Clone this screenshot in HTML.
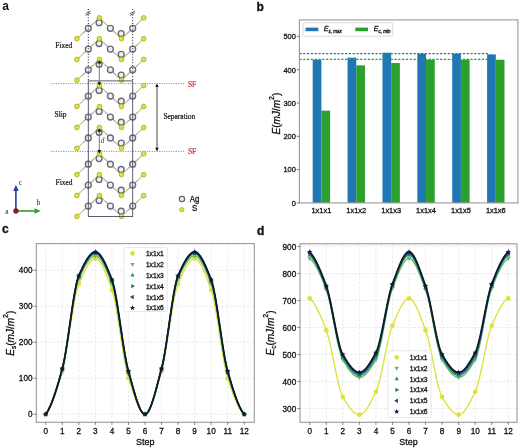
<!DOCTYPE html>
<html><head><meta charset="utf-8"><style>
html,body{margin:0;padding:0;background:#fff;}
svg{display:block;filter:blur(0.35px);}
text{stroke:#111;stroke-width:0.3px;}
.pa text{stroke:none;}
.pa text.sv{stroke:#1a1a1a;stroke-width:0.25px;}
.pa text.sr{stroke:#d02828;stroke-width:0.2px;}
.pa text.sb{stroke:#111;stroke-width:0.3px;}
</style></head><body>
<svg width="520" height="448" viewBox="0 0 520 448">
<rect width="520" height="448" fill="#fff"/>
<g class="pa">
<text transform="translate(2.20,9.50)" style="font-family:'Liberation Sans', sans-serif;font-size:12px;font-weight:bold" fill="#111">a</text>
<line x1="51" y1="83.6" x2="185.5" y2="83.6" stroke="#777" stroke-width="0.8" stroke-dasharray="1.2,1.2"/>
<line x1="51" y1="151.4" x2="185.5" y2="151.4" stroke="#777" stroke-width="0.8" stroke-dasharray="1.2,1.2"/>
<path d="M76.90,38.70 L82.60,33.50 M93.85,23.10 L99.40,17.90 M99.40,17.90 L104.90,23.10 M115.95,33.50 L121.50,38.70 M121.50,38.70 L127.10,33.50 M138.20,23.10 L143.70,17.90 M76.90,59.50 L82.60,54.30 M93.85,43.90 L99.40,38.70 M99.40,38.70 L104.90,43.90 M115.95,54.30 L121.50,59.50 M121.50,59.50 L127.10,54.30 M138.20,43.90 L143.70,38.70 M76.90,80.20 L82.60,75.00 M93.85,64.60 L99.40,59.40 M99.40,59.40 L104.90,64.60 M115.95,75.00 L121.50,80.20 M121.50,80.20 L127.10,75.00 M138.20,64.60 L143.70,59.40 M76.90,106.40 L82.60,101.20 M93.85,90.80 L99.40,85.60 M99.40,85.60 L104.90,90.80 M115.95,101.20 L121.50,106.40 M121.50,106.40 L127.10,101.20 M138.20,90.80 L143.70,85.60 M76.90,127.40 L82.60,122.20 M93.85,111.80 L99.40,106.60 M99.40,106.60 L104.90,111.80 M115.95,122.20 L121.50,127.40 M121.50,127.40 L127.10,122.20 M138.20,111.80 L143.70,106.60 M76.90,148.30 L82.60,143.10 M93.85,132.70 L99.40,127.50 M99.40,127.50 L104.90,132.70 M115.95,143.10 L121.50,148.30 M121.50,148.30 L127.10,143.10 M138.20,132.70 L143.70,127.50 M76.90,174.60 L82.60,169.40 M93.85,159.00 L99.40,153.80 M99.40,153.80 L104.90,159.00 M115.95,169.40 L121.50,174.60 M121.50,174.60 L127.10,169.40 M138.20,159.00 L143.70,153.80 M76.90,195.40 L82.60,190.20 M93.85,179.80 L99.40,174.60 M99.40,174.60 L104.90,179.80 M115.95,190.20 L121.50,195.40 M121.50,195.40 L127.10,190.20 M138.20,179.80 L143.70,174.60 M76.90,216.40 L82.60,211.20 M93.85,200.80 L99.40,195.60 M99.40,195.60 L104.90,200.80 M115.95,211.20 L121.50,216.40 M121.50,216.40 L127.10,211.20 M138.20,200.80 L143.70,195.60" stroke="#c6c66a" stroke-width="1.15" fill="none"/>
<path d="M82.60,33.50 L88.30,28.30 M88.30,28.30 L93.85,23.10 M104.90,23.10 L110.40,28.30 M110.40,28.30 L115.95,33.50 M127.10,33.50 L132.70,28.30 M132.70,28.30 L138.20,23.10 M82.60,54.30 L88.30,49.10 M88.30,49.10 L93.85,43.90 M104.90,43.90 L110.40,49.10 M110.40,49.10 L115.95,54.30 M127.10,54.30 L132.70,49.10 M132.70,49.10 L138.20,43.90 M82.60,75.00 L88.30,69.80 M88.30,69.80 L93.85,64.60 M104.90,64.60 L110.40,69.80 M110.40,69.80 L115.95,75.00 M127.10,75.00 L132.70,69.80 M132.70,69.80 L138.20,64.60 M82.60,101.20 L88.30,96.00 M88.30,96.00 L93.85,90.80 M104.90,90.80 L110.40,96.00 M110.40,96.00 L115.95,101.20 M127.10,101.20 L132.70,96.00 M132.70,96.00 L138.20,90.80 M82.60,122.20 L88.30,117.00 M88.30,117.00 L93.85,111.80 M104.90,111.80 L110.40,117.00 M110.40,117.00 L115.95,122.20 M127.10,122.20 L132.70,117.00 M132.70,117.00 L138.20,111.80 M82.60,143.10 L88.30,137.90 M88.30,137.90 L93.85,132.70 M104.90,132.70 L110.40,137.90 M110.40,137.90 L115.95,143.10 M127.10,143.10 L132.70,137.90 M132.70,137.90 L138.20,132.70 M82.60,169.40 L88.30,164.20 M88.30,164.20 L93.85,159.00 M104.90,159.00 L110.40,164.20 M110.40,164.20 L115.95,169.40 M127.10,169.40 L132.70,164.20 M132.70,164.20 L138.20,159.00 M82.60,190.20 L88.30,185.00 M88.30,185.00 L93.85,179.80 M104.90,179.80 L110.40,185.00 M110.40,185.00 L115.95,190.20 M127.10,190.20 L132.70,185.00 M132.70,185.00 L138.20,179.80 M82.60,211.20 L88.30,206.00 M88.30,206.00 L93.85,200.80 M104.90,200.80 L110.40,206.00 M110.40,206.00 L115.95,211.20 M127.10,211.20 L132.70,206.00 M132.70,206.00 L138.20,200.80" stroke="#a6a6a8" stroke-width="1.15" fill="none"/>
<circle cx="88.3" cy="28.3" r="2.95" fill="#f0f0f4" stroke="#68687a" stroke-width="1.35"/>
<circle cx="99.1" cy="22.7" r="2.95" fill="#f0f0f4" stroke="#68687a" stroke-width="1.35"/>
<circle cx="110.4" cy="28.3" r="2.95" fill="#f0f0f4" stroke="#68687a" stroke-width="1.35"/>
<circle cx="121.2" cy="33.5" r="2.95" fill="#f0f0f4" stroke="#68687a" stroke-width="1.35"/>
<circle cx="132.7" cy="28.3" r="2.95" fill="#f0f0f4" stroke="#68687a" stroke-width="1.35"/>
<circle cx="88.3" cy="49.1" r="2.95" fill="#f0f0f4" stroke="#68687a" stroke-width="1.35"/>
<circle cx="99.1" cy="43.5" r="2.95" fill="#f0f0f4" stroke="#68687a" stroke-width="1.35"/>
<circle cx="110.4" cy="49.1" r="2.95" fill="#f0f0f4" stroke="#68687a" stroke-width="1.35"/>
<circle cx="121.2" cy="54.3" r="2.95" fill="#f0f0f4" stroke="#68687a" stroke-width="1.35"/>
<circle cx="132.7" cy="49.1" r="2.95" fill="#f0f0f4" stroke="#68687a" stroke-width="1.35"/>
<circle cx="88.3" cy="69.8" r="2.95" fill="#f0f0f4" stroke="#68687a" stroke-width="1.35"/>
<circle cx="99.1" cy="64.2" r="2.95" fill="#f0f0f4" stroke="#68687a" stroke-width="1.35"/>
<circle cx="110.4" cy="69.8" r="2.95" fill="#f0f0f4" stroke="#68687a" stroke-width="1.35"/>
<circle cx="121.2" cy="75.0" r="2.95" fill="#f0f0f4" stroke="#68687a" stroke-width="1.35"/>
<circle cx="132.7" cy="69.8" r="2.95" fill="#f0f0f4" stroke="#68687a" stroke-width="1.35"/>
<circle cx="88.3" cy="96.0" r="2.95" fill="#f0f0f4" stroke="#68687a" stroke-width="1.35"/>
<circle cx="99.1" cy="90.4" r="2.95" fill="#f0f0f4" stroke="#68687a" stroke-width="1.35"/>
<circle cx="110.4" cy="96.0" r="2.95" fill="#f0f0f4" stroke="#68687a" stroke-width="1.35"/>
<circle cx="121.2" cy="101.2" r="2.95" fill="#f0f0f4" stroke="#68687a" stroke-width="1.35"/>
<circle cx="132.7" cy="96.0" r="2.95" fill="#f0f0f4" stroke="#68687a" stroke-width="1.35"/>
<circle cx="88.3" cy="117.0" r="2.95" fill="#f0f0f4" stroke="#68687a" stroke-width="1.35"/>
<circle cx="99.1" cy="111.4" r="2.95" fill="#f0f0f4" stroke="#68687a" stroke-width="1.35"/>
<circle cx="110.4" cy="117.0" r="2.95" fill="#f0f0f4" stroke="#68687a" stroke-width="1.35"/>
<circle cx="121.2" cy="122.2" r="2.95" fill="#f0f0f4" stroke="#68687a" stroke-width="1.35"/>
<circle cx="132.7" cy="117.0" r="2.95" fill="#f0f0f4" stroke="#68687a" stroke-width="1.35"/>
<circle cx="88.3" cy="137.9" r="2.95" fill="#f0f0f4" stroke="#68687a" stroke-width="1.35"/>
<circle cx="99.1" cy="132.3" r="2.95" fill="#f0f0f4" stroke="#68687a" stroke-width="1.35"/>
<circle cx="110.4" cy="137.9" r="2.95" fill="#f0f0f4" stroke="#68687a" stroke-width="1.35"/>
<circle cx="121.2" cy="143.1" r="2.95" fill="#f0f0f4" stroke="#68687a" stroke-width="1.35"/>
<circle cx="132.7" cy="137.9" r="2.95" fill="#f0f0f4" stroke="#68687a" stroke-width="1.35"/>
<circle cx="88.3" cy="164.2" r="2.95" fill="#f0f0f4" stroke="#68687a" stroke-width="1.35"/>
<circle cx="99.1" cy="158.6" r="2.95" fill="#f0f0f4" stroke="#68687a" stroke-width="1.35"/>
<circle cx="110.4" cy="164.2" r="2.95" fill="#f0f0f4" stroke="#68687a" stroke-width="1.35"/>
<circle cx="121.2" cy="169.4" r="2.95" fill="#f0f0f4" stroke="#68687a" stroke-width="1.35"/>
<circle cx="132.7" cy="164.2" r="2.95" fill="#f0f0f4" stroke="#68687a" stroke-width="1.35"/>
<circle cx="88.3" cy="185.0" r="2.95" fill="#f0f0f4" stroke="#68687a" stroke-width="1.35"/>
<circle cx="99.1" cy="179.4" r="2.95" fill="#f0f0f4" stroke="#68687a" stroke-width="1.35"/>
<circle cx="110.4" cy="185.0" r="2.95" fill="#f0f0f4" stroke="#68687a" stroke-width="1.35"/>
<circle cx="121.2" cy="190.2" r="2.95" fill="#f0f0f4" stroke="#68687a" stroke-width="1.35"/>
<circle cx="132.7" cy="185.0" r="2.95" fill="#f0f0f4" stroke="#68687a" stroke-width="1.35"/>
<circle cx="88.3" cy="206.0" r="2.95" fill="#f0f0f4" stroke="#68687a" stroke-width="1.35"/>
<circle cx="99.1" cy="200.4" r="2.95" fill="#f0f0f4" stroke="#68687a" stroke-width="1.35"/>
<circle cx="110.4" cy="206.0" r="2.95" fill="#f0f0f4" stroke="#68687a" stroke-width="1.35"/>
<circle cx="121.2" cy="211.2" r="2.95" fill="#f0f0f4" stroke="#68687a" stroke-width="1.35"/>
<circle cx="132.7" cy="206.0" r="2.95" fill="#f0f0f4" stroke="#68687a" stroke-width="1.35"/>
<circle cx="76.9" cy="38.7" r="2.35" fill="#e2e236" stroke="#a6a630" stroke-width="0.8"/>
<circle cx="121.5" cy="38.7" r="2.35" fill="#e2e236" stroke="#a6a630" stroke-width="0.8"/>
<circle cx="99.4" cy="17.9" r="2.35" fill="#e2e236" stroke="#a6a630" stroke-width="0.8"/>
<circle cx="143.7" cy="17.9" r="2.35" fill="#e2e236" stroke="#a6a630" stroke-width="0.8"/>
<circle cx="76.9" cy="59.5" r="2.35" fill="#e2e236" stroke="#a6a630" stroke-width="0.8"/>
<circle cx="121.5" cy="59.5" r="2.35" fill="#e2e236" stroke="#a6a630" stroke-width="0.8"/>
<circle cx="99.4" cy="38.7" r="2.35" fill="#e2e236" stroke="#a6a630" stroke-width="0.8"/>
<circle cx="143.7" cy="38.7" r="2.35" fill="#e2e236" stroke="#a6a630" stroke-width="0.8"/>
<circle cx="76.9" cy="80.2" r="2.35" fill="#e2e236" stroke="#a6a630" stroke-width="0.8"/>
<circle cx="121.5" cy="80.2" r="2.35" fill="#e2e236" stroke="#a6a630" stroke-width="0.8"/>
<circle cx="99.4" cy="59.4" r="2.35" fill="#e2e236" stroke="#a6a630" stroke-width="0.8"/>
<circle cx="143.7" cy="59.4" r="2.35" fill="#e2e236" stroke="#a6a630" stroke-width="0.8"/>
<circle cx="76.9" cy="106.4" r="2.35" fill="#e2e236" stroke="#a6a630" stroke-width="0.8"/>
<circle cx="121.5" cy="106.4" r="2.35" fill="#e2e236" stroke="#a6a630" stroke-width="0.8"/>
<circle cx="99.4" cy="85.6" r="2.35" fill="#e2e236" stroke="#a6a630" stroke-width="0.8"/>
<circle cx="143.7" cy="85.6" r="2.35" fill="#e2e236" stroke="#a6a630" stroke-width="0.8"/>
<circle cx="76.9" cy="127.4" r="2.35" fill="#e2e236" stroke="#a6a630" stroke-width="0.8"/>
<circle cx="121.5" cy="127.4" r="2.35" fill="#e2e236" stroke="#a6a630" stroke-width="0.8"/>
<circle cx="99.4" cy="106.6" r="2.35" fill="#e2e236" stroke="#a6a630" stroke-width="0.8"/>
<circle cx="143.7" cy="106.6" r="2.35" fill="#e2e236" stroke="#a6a630" stroke-width="0.8"/>
<circle cx="76.9" cy="148.3" r="2.35" fill="#e2e236" stroke="#a6a630" stroke-width="0.8"/>
<circle cx="121.5" cy="148.3" r="2.35" fill="#e2e236" stroke="#a6a630" stroke-width="0.8"/>
<circle cx="99.4" cy="127.5" r="2.35" fill="#e2e236" stroke="#a6a630" stroke-width="0.8"/>
<circle cx="143.7" cy="127.5" r="2.35" fill="#e2e236" stroke="#a6a630" stroke-width="0.8"/>
<circle cx="76.9" cy="174.6" r="2.35" fill="#e2e236" stroke="#a6a630" stroke-width="0.8"/>
<circle cx="121.5" cy="174.6" r="2.35" fill="#e2e236" stroke="#a6a630" stroke-width="0.8"/>
<circle cx="99.4" cy="153.8" r="2.35" fill="#e2e236" stroke="#a6a630" stroke-width="0.8"/>
<circle cx="143.7" cy="153.8" r="2.35" fill="#e2e236" stroke="#a6a630" stroke-width="0.8"/>
<circle cx="76.9" cy="195.4" r="2.35" fill="#e2e236" stroke="#a6a630" stroke-width="0.8"/>
<circle cx="121.5" cy="195.4" r="2.35" fill="#e2e236" stroke="#a6a630" stroke-width="0.8"/>
<circle cx="99.4" cy="174.6" r="2.35" fill="#e2e236" stroke="#a6a630" stroke-width="0.8"/>
<circle cx="143.7" cy="174.6" r="2.35" fill="#e2e236" stroke="#a6a630" stroke-width="0.8"/>
<circle cx="76.9" cy="216.4" r="2.35" fill="#e2e236" stroke="#a6a630" stroke-width="0.8"/>
<circle cx="121.5" cy="216.4" r="2.35" fill="#e2e236" stroke="#a6a630" stroke-width="0.8"/>
<circle cx="99.4" cy="195.6" r="2.35" fill="#e2e236" stroke="#a6a630" stroke-width="0.8"/>
<circle cx="143.7" cy="195.6" r="2.35" fill="#e2e236" stroke="#a6a630" stroke-width="0.8"/>
<rect x="88.3" y="80.9" width="44.4" height="135.6" fill="none" stroke="#4c4c5c" stroke-width="0.9"/>
<line x1="88.3" y1="9" x2="88.3" y2="80.9" stroke="#222" stroke-width="1" stroke-dasharray="1,1.8"/>
<path d="M85.7,13.6 L90.5,11.2 M85.7,15.4 L90.5,13.0" stroke="#333" stroke-width="0.8" fill="none"/>
<line x1="132.7" y1="9" x2="132.7" y2="80.9" stroke="#222" stroke-width="1" stroke-dasharray="1,1.8"/>
<path d="M130.1,13.6 L134.89999999999998,11.2 M130.1,15.4 L134.89999999999998,13.0" stroke="#333" stroke-width="0.8" fill="none"/>
<line x1="99.3" y1="62.2" x2="99.3" y2="83.6" stroke="#6a6a7c" stroke-width="0.9"/>
<path d="M97.3,63.6 L99.3,60.2 L101.3,63.6 Z M97.3,82.19999999999999 L99.3,85.6 L101.3,82.19999999999999 Z" fill="#111"/>
<line x1="99.3" y1="130.4" x2="99.3" y2="151.4" stroke="#6a6a7c" stroke-width="0.9"/>
<path d="M97.3,131.8 L99.3,128.4 L101.3,131.8 Z M97.3,150.0 L99.3,153.4 L101.3,150.0 Z" fill="#111"/>
<text transform="translate(100.90,143.40) scale(0.93,1)" style="font-family:'Liberation Serif', serif;font-size:7.2px;font-style:italic" fill="#333">d</text>
<line x1="157" y1="85" x2="157" y2="150" stroke="#333" stroke-width="0.9"/>
<path d="M155.3,87 L157,83.4 L158.7,87 Z M155.3,147.8 L157,151.4 L158.7,147.8 Z" fill="#111"/>
<text class="sv" transform="translate(55.30,48.40) scale(0.93,1)" style="font-family:'Liberation Serif', serif;font-size:8px;" fill="#1a1a1a">Fixed</text>
<text class="sv" transform="translate(54.60,117.30) scale(0.93,1)" style="font-family:'Liberation Serif', serif;font-size:8px;" fill="#1a1a1a">Slip</text>
<text class="sv" transform="translate(55.50,185.10) scale(0.93,1)" style="font-family:'Liberation Serif', serif;font-size:8px;" fill="#1a1a1a">Fixed</text>
<text class="sv" transform="translate(163.40,119.00) scale(0.93,1)" style="font-family:'Liberation Serif', serif;font-size:8px;" fill="#1a1a1a">Separation</text>
<text class="sr" transform="translate(187.90,86.50) scale(0.93,1)" style="font-family:'Liberation Serif', serif;font-size:8px;" fill="#d02828">SF</text>
<text class="sr" transform="translate(187.90,154.20) scale(0.93,1)" style="font-family:'Liberation Serif', serif;font-size:8px;" fill="#d02828">SF</text>
<line x1="15.9" y1="211" x2="15.9" y2="190" stroke="#1f3f9a" stroke-width="1.6"/>
<path d="M13.2,191 L15.9,184.8 L18.6,191 Z" fill="#1f3f9a"/>
<line x1="15.9" y1="211" x2="35" y2="211" stroke="#2ca02c" stroke-width="1.6"/>
<path d="M34.5,208.3 L40.8,211 L34.5,213.7 Z" fill="#2ca02c"/>
<circle cx="15.9" cy="211" r="2.4" fill="#a01818" stroke="#600" stroke-width="0.6"/>
<text transform="translate(18.80,184.60) scale(0.93,1)" style="font-family:'Liberation Serif', serif;font-size:8px;" fill="#222">c</text>
<text transform="translate(36.40,204.60) scale(0.93,1)" style="font-family:'Liberation Serif', serif;font-size:8px;" fill="#222">b</text>
<text transform="translate(5.20,213.80) scale(0.93,1)" style="font-family:'Liberation Serif', serif;font-size:8px;" fill="#222">a</text>
<circle cx="182" cy="199" r="2.6" fill="#f4f4f4" stroke="#666" stroke-width="1.25"/>
<circle cx="181.8" cy="209.7" r="2.2" fill="#e0e030" stroke="#b0b040" stroke-width="0.8"/>
<text class="sb" transform="translate(189.80,201.80) scale(0.93,1)" style="font-family:'Liberation Sans', sans-serif;font-size:8.4px;" fill="#111">Ag</text>
<text class="sb" transform="translate(192.00,211.40) scale(0.93,1)" style="font-family:'Liberation Sans', sans-serif;font-size:8.4px;" fill="#111">S</text>
</g>
<text transform="translate(256.60,10.60)" style="font-family:'Liberation Sans', sans-serif;font-size:12px;font-weight:bold" fill="#111">b</text>
<rect x="312.70" y="59.71" width="8.7" height="143.19" fill="#1f77b4"/>
<rect x="321.40" y="110.66" width="8.7" height="92.24" fill="#2ca02c"/>
<rect x="347.58" y="57.71" width="8.7" height="145.19" fill="#1f77b4"/>
<rect x="356.28" y="65.37" width="8.7" height="137.53" fill="#2ca02c"/>
<rect x="382.46" y="52.72" width="8.7" height="150.18" fill="#1f77b4"/>
<rect x="391.16" y="63.04" width="8.7" height="139.86" fill="#2ca02c"/>
<rect x="417.34" y="53.72" width="8.7" height="149.18" fill="#1f77b4"/>
<rect x="426.04" y="59.71" width="8.7" height="143.19" fill="#2ca02c"/>
<rect x="452.22" y="53.72" width="8.7" height="149.18" fill="#1f77b4"/>
<rect x="460.92" y="59.71" width="8.7" height="143.19" fill="#2ca02c"/>
<rect x="487.10" y="54.38" width="8.7" height="148.52" fill="#1f77b4"/>
<rect x="495.80" y="59.71" width="8.7" height="143.19" fill="#2ca02c"/>
<line x1="299.4" y1="53.72" x2="488" y2="53.72" stroke="#1f77b4" stroke-width="1.25" stroke-dasharray="2.3,1.5"/>
<line x1="299.4" y1="59.38" x2="488" y2="59.38" stroke="#2ca02c" stroke-width="1.25" stroke-dasharray="2.3,1.5"/>
<rect x="299.4" y="19.9" width="218.50" height="183.00" fill="none" stroke="#999" stroke-width="1.1"/>
<line x1="296.79999999999995" y1="202.90" x2="299.4" y2="202.90" stroke="#555" stroke-width="0.8"/>
<text transform="translate(295.80,205.70) scale(0.93,1)" text-anchor="end" style="font-family:'Liberation Sans', sans-serif;font-size:8.0px;" fill="#111">0</text>
<line x1="296.79999999999995" y1="169.60" x2="299.4" y2="169.60" stroke="#555" stroke-width="0.8"/>
<text transform="translate(295.80,172.40) scale(0.93,1)" text-anchor="end" style="font-family:'Liberation Sans', sans-serif;font-size:8.0px;" fill="#111">100</text>
<line x1="296.79999999999995" y1="136.30" x2="299.4" y2="136.30" stroke="#555" stroke-width="0.8"/>
<text transform="translate(295.80,139.10) scale(0.93,1)" text-anchor="end" style="font-family:'Liberation Sans', sans-serif;font-size:8.0px;" fill="#111">200</text>
<line x1="296.79999999999995" y1="103.00" x2="299.4" y2="103.00" stroke="#555" stroke-width="0.8"/>
<text transform="translate(295.80,105.80) scale(0.93,1)" text-anchor="end" style="font-family:'Liberation Sans', sans-serif;font-size:8.0px;" fill="#111">300</text>
<line x1="296.79999999999995" y1="69.70" x2="299.4" y2="69.70" stroke="#555" stroke-width="0.8"/>
<text transform="translate(295.80,72.50) scale(0.93,1)" text-anchor="end" style="font-family:'Liberation Sans', sans-serif;font-size:8.0px;" fill="#111">400</text>
<line x1="296.79999999999995" y1="36.40" x2="299.4" y2="36.40" stroke="#555" stroke-width="0.8"/>
<text transform="translate(295.80,39.20) scale(0.93,1)" text-anchor="end" style="font-family:'Liberation Sans', sans-serif;font-size:8.0px;" fill="#111">500</text>
<text transform="translate(321.40,213.30) scale(0.93,1)" text-anchor="middle" style="font-family:'Liberation Sans', sans-serif;font-size:8.0px;" fill="#111">1x1x1</text>
<text transform="translate(356.28,213.30) scale(0.93,1)" text-anchor="middle" style="font-family:'Liberation Sans', sans-serif;font-size:8.0px;" fill="#111">1x1x2</text>
<text transform="translate(391.16,213.30) scale(0.93,1)" text-anchor="middle" style="font-family:'Liberation Sans', sans-serif;font-size:8.0px;" fill="#111">1x1x3</text>
<text transform="translate(426.04,213.30) scale(0.93,1)" text-anchor="middle" style="font-family:'Liberation Sans', sans-serif;font-size:8.0px;" fill="#111">1x1x4</text>
<text transform="translate(460.92,213.30) scale(0.93,1)" text-anchor="middle" style="font-family:'Liberation Sans', sans-serif;font-size:8.0px;" fill="#111">1x1x5</text>
<text transform="translate(495.80,213.30) scale(0.93,1)" text-anchor="middle" style="font-family:'Liberation Sans', sans-serif;font-size:8.0px;" fill="#111">1x1x6</text>
<text transform="translate(279.60,113.60) rotate(-90) scale(0.93,1)" text-anchor="middle" style="font-family:'Liberation Sans', sans-serif;font-size:10.8px;" fill="#111"><tspan font-style="italic">E</tspan>(<tspan font-style="italic">mJ</tspan>/<tspan font-style="italic">m</tspan><tspan dy="-5.2" font-size="7.5px">2</tspan><tspan dy="5.2">)</tspan></text>
<rect x="303" y="22.7" width="89.7" height="13.5" rx="1.5" fill="#fff" fill-opacity="0.8" stroke="#d0d0d0" stroke-width="0.8"/>
<rect x="305.6" y="27.6" width="12.7" height="3.6" fill="#1f77b4"/>
<rect x="355.3" y="27.6" width="12.7" height="3.6" fill="#2ca02c"/>
<text transform="translate(323.80,31.10) scale(0.93,1)" style="font-family:'Liberation Sans', sans-serif;font-size:7.6px;font-style:italic" fill="#111">E<tspan dy="2.0" font-size="4.9px">s, max</tspan></text>
<text transform="translate(373.70,31.10) scale(0.93,1)" style="font-family:'Liberation Sans', sans-serif;font-size:7.6px;font-style:italic" fill="#111">E<tspan dy="2.0" font-size="4.9px">c, min</tspan></text>
<text transform="translate(2.00,232.80)" style="font-family:'Liberation Sans', sans-serif;font-size:12px;font-weight:bold" fill="#111">c</text>
<path d="M45.75,243.6 L45.75,422.3 M62.29,243.6 L62.29,422.3 M78.83,243.6 L78.83,422.3 M95.37,243.6 L95.37,422.3 M111.91,243.6 L111.91,422.3 M128.45,243.6 L128.45,422.3 M144.99,243.6 L144.99,422.3 M161.53,243.6 L161.53,422.3 M178.07,243.6 L178.07,422.3 M194.61,243.6 L194.61,422.3 M211.15,243.6 L211.15,422.3 M227.69,243.6 L227.69,422.3 M244.23,243.6 L244.23,422.3 M36.3,414.25 L254.3,414.25 M36.3,378.25 L254.3,378.25 M36.3,342.25 L254.3,342.25 M36.3,306.25 L254.3,306.25 M36.3,270.25 L254.3,270.25" stroke="#e6e6e6" stroke-width="0.8" stroke-dasharray="2.6,1.6" fill="none"/>
<path d="M45.75,414.25 L46.25,413.63 L46.74,412.95 L47.24,412.22 L47.74,411.44 L48.24,410.61 L48.73,409.73 L49.23,408.80 L49.73,407.83 L50.23,406.81 L50.72,405.74 L51.22,404.64 L51.72,403.49 L52.22,402.31 L52.71,401.08 L53.21,399.82 L53.71,398.52 L54.21,397.19 L54.70,395.82 L55.20,394.43 L55.70,393.00 L56.20,391.54 L56.69,390.05 L57.19,388.54 L57.69,387.00 L58.19,385.43 L58.68,383.85 L59.18,382.24 L59.68,380.61 L60.18,378.96 L60.67,377.29 L61.17,375.61 L61.67,373.91 L62.17,372.20 L62.66,370.42 L63.16,368.46 L63.66,366.33 L64.16,364.03 L64.65,361.58 L65.15,358.99 L65.65,356.28 L66.15,353.46 L66.64,350.54 L67.14,347.53 L67.64,344.45 L68.13,341.32 L68.63,338.13 L69.13,334.91 L69.63,331.67 L70.12,328.43 L70.62,325.18 L71.12,321.96 L71.62,318.76 L72.11,315.62 L72.61,312.52 L73.11,309.50 L73.61,306.56 L74.10,303.71 L74.60,300.98 L75.10,298.36 L75.60,295.88 L76.09,293.55 L76.59,291.38 L77.09,289.38 L77.59,287.56 L78.08,285.95 L78.58,284.55 L79.08,283.34 L79.58,282.17 L80.07,281.01 L80.57,279.85 L81.07,278.71 L81.57,277.58 L82.06,276.46 L82.56,275.36 L83.06,274.28 L83.56,273.22 L84.05,272.19 L84.55,271.18 L85.05,270.19 L85.55,269.23 L86.04,268.30 L86.54,267.40 L87.04,266.54 L87.54,265.71 L88.03,264.92 L88.53,264.17 L89.03,263.45 L89.53,262.78 L90.02,262.16 L90.52,261.58 L91.02,261.05 L91.51,260.57 L92.01,260.14 L92.51,259.76 L93.01,259.44 L93.50,259.18 L94.00,258.97 L94.50,258.83 L95.00,258.75 L95.49,258.73 L95.99,258.80 L96.49,258.94 L96.99,259.17 L97.48,259.48 L97.98,259.86 L98.48,260.31 L98.98,260.83 L99.47,261.42 L99.97,262.07 L100.47,262.79 L100.97,263.56 L101.46,264.39 L101.96,265.27 L102.46,266.21 L102.96,267.19 L103.45,268.22 L103.95,269.29 L104.45,270.40 L104.95,271.54 L105.44,272.73 L105.94,273.94 L106.44,275.19 L106.94,276.46 L107.43,277.75 L107.93,279.07 L108.43,280.40 L108.93,281.76 L109.42,283.12 L109.92,284.50 L110.42,285.88 L110.92,287.27 L111.41,288.66 L111.91,290.05 L112.41,291.55 L112.90,293.25 L113.40,295.15 L113.90,297.22 L114.40,299.47 L114.89,301.87 L115.39,304.41 L115.89,307.08 L116.39,309.86 L116.88,312.75 L117.38,315.73 L117.88,318.78 L118.38,321.90 L118.87,325.07 L119.37,328.28 L119.87,331.51 L120.37,334.75 L120.86,338.00 L121.36,341.23 L121.86,344.44 L122.36,347.60 L122.85,350.72 L123.35,353.77 L123.85,356.74 L124.35,359.62 L124.84,362.40 L125.34,365.06 L125.84,367.59 L126.34,369.98 L126.83,372.22 L127.33,374.28 L127.83,376.17 L128.33,377.86 L128.82,379.41 L129.32,380.95 L129.82,382.51 L130.32,384.06 L130.81,385.61 L131.31,387.16 L131.81,388.69 L132.31,390.22 L132.80,391.72 L133.30,393.21 L133.80,394.68 L134.29,396.11 L134.79,397.52 L135.29,398.90 L135.79,400.24 L136.28,401.54 L136.78,402.80 L137.28,404.01 L137.78,405.17 L138.27,406.27 L138.77,407.32 L139.27,408.31 L139.77,409.24 L140.26,410.09 L140.76,410.88 L141.26,411.60 L141.76,412.23 L142.25,412.79 L142.75,413.26 L143.25,413.64 L143.75,413.94 L144.24,414.14 L144.74,414.24 L145.24,414.23 L145.74,414.11 L146.23,413.87 L146.73,413.50 L147.23,413.03 L147.73,412.46 L148.22,411.78 L148.72,411.00 L149.22,410.13 L149.72,409.17 L150.21,408.12 L150.71,407.00 L151.21,405.80 L151.71,404.54 L152.20,403.20 L152.70,401.81 L153.20,400.35 L153.70,398.85 L154.19,397.30 L154.69,395.70 L155.19,394.07 L155.69,392.40 L156.18,390.70 L156.68,388.97 L157.18,387.23 L157.67,385.47 L158.17,383.70 L158.67,381.92 L159.17,380.13 L159.66,378.35 L160.16,376.58 L160.66,374.82 L161.16,373.07 L161.65,371.33 L162.15,369.47 L162.65,367.42 L163.15,365.20 L163.64,362.82 L164.14,360.30 L164.64,357.65 L165.14,354.88 L165.63,352.01 L166.13,349.05 L166.63,346.00 L167.13,342.89 L167.62,339.73 L168.12,336.52 L168.62,333.29 L169.12,330.05 L169.61,326.80 L170.11,323.57 L170.61,320.36 L171.11,317.18 L171.60,314.06 L172.10,311.00 L172.60,308.02 L173.10,305.12 L173.59,302.33 L174.09,299.65 L174.59,297.11 L175.09,294.70 L175.58,292.44 L176.08,290.35 L176.58,288.45 L177.08,286.73 L177.57,285.22 L178.07,283.93 L178.57,282.75 L179.06,281.59 L179.56,280.43 L180.06,279.28 L180.56,278.14 L181.05,277.02 L181.55,275.91 L182.05,274.82 L182.55,273.75 L183.04,272.70 L183.54,271.68 L184.04,270.68 L184.54,269.71 L185.03,268.76 L185.53,267.85 L186.03,266.97 L186.53,266.12 L187.02,265.31 L187.52,264.54 L188.02,263.80 L188.52,263.11 L189.01,262.47 L189.51,261.86 L190.01,261.31 L190.51,260.80 L191.00,260.35 L191.50,259.94 L192.00,259.59 L192.50,259.30 L192.99,259.07 L193.49,258.89 L193.99,258.78 L194.49,258.73 L194.98,258.75 L195.48,258.86 L195.98,259.05 L196.48,259.31 L196.97,259.66 L197.47,260.07 L197.97,260.56 L198.47,261.12 L198.96,261.74 L199.46,262.42 L199.96,263.16 L200.45,263.97 L200.95,264.82 L201.45,265.73 L201.95,266.69 L202.44,267.70 L202.94,268.75 L203.44,269.84 L203.94,270.97 L204.43,272.13 L204.93,273.33 L205.43,274.56 L205.93,275.82 L206.42,277.10 L206.92,278.41 L207.42,279.73 L207.92,281.08 L208.41,282.44 L208.91,283.81 L209.41,285.19 L209.91,286.57 L210.40,287.96 L210.90,289.35 L211.40,290.77 L211.90,292.37 L212.39,294.18 L212.89,296.16 L213.39,298.33 L213.89,300.65 L214.38,303.12 L214.88,305.73 L215.38,308.46 L215.88,311.29 L216.37,314.23 L216.87,317.24 L217.37,320.33 L217.87,323.48 L218.36,326.67 L218.86,329.89 L219.36,333.13 L219.86,336.38 L220.35,339.62 L220.85,342.84 L221.35,346.03 L221.85,349.17 L222.34,352.25 L222.84,355.27 L223.34,358.19 L223.83,361.03 L224.33,363.75 L224.83,366.34 L225.33,368.81 L225.82,371.12 L226.32,373.27 L226.82,375.25 L227.32,377.04 L227.81,378.63 L228.31,380.17 L228.81,381.69 L229.31,383.20 L229.80,384.69 L230.30,386.18 L230.80,387.64 L231.30,389.09 L231.79,390.51 L232.29,391.92 L232.79,393.30 L233.29,394.65 L233.78,395.97 L234.28,397.27 L234.78,398.54 L235.28,399.77 L235.77,400.96 L236.27,402.12 L236.77,403.25 L237.27,404.33 L237.76,405.37 L238.26,406.36 L238.76,407.31 L239.26,408.22 L239.75,409.07 L240.25,409.87 L240.75,410.63 L241.25,411.32 L241.74,411.96 L242.24,412.54 L242.74,413.06 L243.24,413.52 L243.73,413.92 L244.23,414.25" stroke="#dce23a" stroke-width="1.35" fill="none" stroke-linejoin="round"/>
<circle cx="45.75" cy="414.25" r="2.35" fill="#dce23a"/>
<circle cx="62.29" cy="371.77" r="2.35" fill="#dce23a"/>
<circle cx="78.83" cy="283.93" r="2.35" fill="#dce23a"/>
<circle cx="95.37" cy="258.73" r="2.35" fill="#dce23a"/>
<circle cx="111.91" cy="290.05" r="2.35" fill="#dce23a"/>
<circle cx="128.45" cy="378.25" r="2.35" fill="#dce23a"/>
<circle cx="144.99" cy="414.25" r="2.35" fill="#dce23a"/>
<circle cx="161.53" cy="371.77" r="2.35" fill="#dce23a"/>
<circle cx="178.07" cy="283.93" r="2.35" fill="#dce23a"/>
<circle cx="194.61" cy="258.73" r="2.35" fill="#dce23a"/>
<circle cx="211.15" cy="290.05" r="2.35" fill="#dce23a"/>
<circle cx="227.69" cy="378.25" r="2.35" fill="#dce23a"/>
<circle cx="244.23" cy="414.25" r="2.35" fill="#dce23a"/>
<path d="M45.75,414.25 L46.25,413.57 L46.74,412.84 L47.24,412.06 L47.74,411.22 L48.24,410.33 L48.73,409.39 L49.23,408.41 L49.73,407.37 L50.23,406.30 L50.72,405.17 L51.22,404.01 L51.72,402.80 L52.22,401.55 L52.71,400.27 L53.21,398.94 L53.71,397.58 L54.21,396.18 L54.70,394.75 L55.20,393.29 L55.70,391.79 L56.20,390.26 L56.69,388.71 L57.19,387.13 L57.69,385.52 L58.19,383.88 L58.68,382.23 L59.18,380.55 L59.68,378.84 L60.18,377.12 L60.67,375.38 L61.17,373.62 L61.67,371.85 L62.17,370.06 L62.66,368.20 L63.16,366.15 L63.66,363.92 L64.16,361.51 L64.65,358.95 L65.15,356.24 L65.65,353.40 L66.15,350.45 L66.64,347.39 L67.14,344.25 L67.64,341.03 L68.13,337.76 L68.63,334.43 L69.13,331.07 L69.63,327.70 L70.12,324.32 L70.62,320.94 L71.12,317.59 L71.62,314.28 L72.11,311.02 L72.61,307.82 L73.11,304.70 L73.61,301.67 L74.10,298.74 L74.60,295.94 L75.10,293.27 L75.60,290.75 L76.09,288.38 L76.59,286.20 L77.09,284.20 L77.59,282.40 L78.08,280.82 L78.58,279.47 L79.08,278.34 L79.58,277.24 L80.07,276.16 L80.57,275.08 L81.07,274.02 L81.57,272.97 L82.06,271.94 L82.56,270.93 L83.06,269.94 L83.56,268.97 L84.05,268.02 L84.55,267.09 L85.05,266.19 L85.55,265.32 L86.04,264.47 L86.54,263.66 L87.04,262.87 L87.54,262.12 L88.03,261.41 L88.53,260.73 L89.03,260.08 L89.53,259.48 L90.02,258.92 L90.52,258.40 L91.02,257.92 L91.51,257.49 L92.01,257.11 L92.51,256.77 L93.01,256.48 L93.50,256.25 L94.00,256.07 L94.50,255.94 L95.00,255.87 L95.49,255.85 L95.99,255.91 L96.49,256.04 L96.99,256.23 L97.48,256.50 L97.98,256.83 L98.48,257.23 L98.98,257.68 L99.47,258.20 L99.97,258.77 L100.47,259.40 L100.97,260.08 L101.46,260.81 L101.96,261.58 L102.46,262.41 L102.96,263.28 L103.45,264.19 L103.95,265.14 L104.45,266.12 L104.95,267.15 L105.44,268.20 L105.94,269.29 L106.44,270.40 L106.94,271.54 L107.43,272.71 L107.93,273.90 L108.43,275.10 L108.93,276.33 L109.42,277.57 L109.92,278.82 L110.42,280.09 L110.92,281.36 L111.41,282.64 L111.91,283.93 L112.41,285.33 L112.90,286.95 L113.40,288.78 L113.90,290.80 L114.40,293.00 L114.89,295.37 L115.39,297.89 L115.89,300.54 L116.39,303.33 L116.88,306.23 L117.38,309.23 L117.88,312.31 L118.38,315.47 L118.87,318.69 L119.37,321.95 L119.87,325.25 L120.37,328.56 L120.86,331.89 L121.36,335.21 L121.86,338.50 L122.36,341.77 L122.85,344.99 L123.35,348.14 L123.85,351.23 L124.35,354.23 L124.84,357.13 L125.34,359.91 L125.84,362.57 L126.34,365.09 L126.83,367.46 L127.33,369.66 L127.83,371.68 L128.33,373.50 L128.82,375.19 L129.32,376.88 L129.82,378.59 L130.32,380.30 L130.81,382.01 L131.31,383.72 L131.81,385.42 L132.31,387.11 L132.80,388.79 L133.30,390.45 L133.80,392.09 L134.29,393.71 L134.79,395.29 L135.29,396.83 L135.79,398.34 L136.28,399.81 L136.78,401.23 L137.28,402.59 L137.78,403.91 L138.27,405.16 L138.77,406.35 L139.27,407.47 L139.77,408.53 L140.26,409.50 L140.76,410.40 L141.26,411.22 L141.76,411.94 L142.25,412.58 L142.75,413.12 L143.25,413.56 L143.75,413.89 L144.24,414.12 L144.74,414.24 L145.24,414.23 L145.74,414.10 L146.23,413.84 L146.73,413.46 L147.23,412.97 L147.73,412.36 L148.22,411.64 L148.72,410.82 L149.22,409.90 L149.72,408.89 L150.21,407.79 L150.71,406.61 L151.21,405.34 L151.71,404.01 L152.20,402.60 L152.70,401.13 L153.20,399.60 L153.70,398.02 L154.19,396.39 L154.69,394.71 L155.19,392.99 L155.69,391.24 L156.18,389.45 L156.68,387.64 L157.18,385.81 L157.67,383.96 L158.17,382.10 L158.67,380.23 L159.17,378.36 L159.66,376.50 L160.16,374.64 L160.66,372.79 L161.16,370.97 L161.65,369.15 L162.15,367.20 L162.65,365.06 L163.15,362.73 L163.64,360.25 L164.14,357.61 L164.64,354.84 L165.14,351.94 L165.63,348.93 L166.13,345.83 L166.63,342.65 L167.13,339.40 L167.62,336.10 L168.12,332.76 L168.62,329.39 L169.12,326.01 L169.61,322.63 L170.11,319.26 L170.61,315.93 L171.11,312.64 L171.60,309.41 L172.10,306.25 L172.60,303.17 L173.10,300.19 L173.59,297.33 L174.09,294.59 L174.59,291.99 L175.09,289.54 L175.58,287.27 L176.08,285.17 L176.58,283.27 L177.08,281.58 L177.57,280.12 L178.07,278.89 L178.57,277.79 L179.06,276.70 L179.56,275.62 L180.06,274.55 L180.56,273.49 L181.05,272.46 L181.55,271.43 L182.05,270.43 L182.55,269.45 L183.04,268.49 L183.54,267.55 L184.04,266.64 L184.54,265.75 L185.03,264.89 L185.53,264.06 L186.03,263.26 L186.53,262.49 L187.02,261.76 L187.52,261.06 L188.02,260.40 L188.52,259.78 L189.01,259.19 L189.51,258.65 L190.01,258.15 L190.51,257.70 L191.00,257.29 L191.50,256.93 L192.00,256.62 L192.50,256.36 L192.99,256.15 L193.49,256.00 L193.99,255.90 L194.49,255.85 L194.98,255.87 L195.48,255.96 L195.98,256.13 L196.48,256.36 L196.97,256.66 L197.47,257.02 L197.97,257.45 L198.47,257.93 L198.96,258.48 L199.46,259.08 L199.96,259.73 L200.45,260.44 L200.95,261.19 L201.45,261.99 L201.95,262.84 L202.44,263.73 L202.94,264.66 L203.44,265.63 L203.94,266.63 L204.43,267.67 L204.93,268.74 L205.43,269.84 L205.93,270.97 L206.42,272.12 L206.92,273.30 L207.42,274.50 L207.92,275.71 L208.41,276.95 L208.91,278.20 L209.41,279.45 L209.91,280.73 L210.40,282.00 L210.90,283.29 L211.40,284.60 L211.90,286.12 L212.39,287.84 L212.89,289.77 L213.39,291.88 L213.89,294.16 L214.38,296.61 L214.88,299.20 L215.38,301.92 L215.88,304.77 L216.37,307.71 L216.87,310.76 L217.37,313.88 L217.87,317.07 L218.36,320.31 L218.86,323.60 L219.36,326.90 L219.86,330.23 L220.35,333.55 L220.85,336.86 L221.35,340.14 L221.85,343.38 L222.34,346.57 L222.84,349.70 L223.34,352.74 L223.83,355.69 L224.33,358.53 L224.83,361.26 L225.33,363.85 L225.82,366.29 L226.32,368.58 L226.82,370.69 L227.32,372.62 L227.81,374.35 L228.31,376.01 L228.81,377.67 L229.31,379.31 L229.80,380.93 L230.30,382.54 L230.80,384.13 L231.30,385.69 L231.79,387.24 L232.29,388.76 L232.79,390.26 L233.29,391.73 L233.78,393.17 L234.28,394.59 L234.78,395.97 L235.28,397.32 L235.77,398.63 L236.27,399.91 L236.77,401.15 L237.27,402.36 L237.76,403.52 L238.26,404.64 L238.76,405.72 L239.26,406.75 L239.75,407.73 L240.25,408.67 L240.75,409.56 L241.25,410.40 L241.74,411.18 L242.24,411.91 L242.74,412.58 L243.24,413.20 L243.73,413.75 L244.23,414.25" stroke="#68b85a" stroke-width="1.35" fill="none" stroke-linejoin="round"/>
<polygon points="45.75,416.83 43.51,412.96 47.99,412.96" fill="#68b85a"/>
<polygon points="62.29,372.19 60.05,368.32 64.53,368.32" fill="#68b85a"/>
<polygon points="78.83,281.47 76.59,277.60 81.07,277.60" fill="#68b85a"/>
<polygon points="95.37,258.44 93.13,254.56 97.61,254.56" fill="#68b85a"/>
<polygon points="111.91,286.51 109.67,282.64 114.15,282.64" fill="#68b85a"/>
<polygon points="128.45,376.51 126.21,372.64 130.69,372.64" fill="#68b85a"/>
<polygon points="144.99,416.83 142.75,412.96 147.23,412.96" fill="#68b85a"/>
<polygon points="161.53,372.19 159.29,368.32 163.77,368.32" fill="#68b85a"/>
<polygon points="178.07,281.47 175.83,277.60 180.31,277.60" fill="#68b85a"/>
<polygon points="194.61,258.44 192.37,254.56 196.85,254.56" fill="#68b85a"/>
<polygon points="211.15,286.51 208.91,282.64 213.39,282.64" fill="#68b85a"/>
<polygon points="227.69,376.51 225.45,372.64 229.93,372.64" fill="#68b85a"/>
<polygon points="244.23,416.83 241.99,412.96 246.47,412.96" fill="#68b85a"/>
<path d="M45.75,414.25 L46.25,413.58 L46.74,412.85 L47.24,412.07 L47.74,411.23 L48.24,410.34 L48.73,409.40 L49.23,408.41 L49.73,407.37 L50.23,406.29 L50.72,405.16 L51.22,403.99 L51.72,402.77 L52.22,401.52 L52.71,400.22 L53.21,398.88 L53.71,397.51 L54.21,396.10 L54.70,394.65 L55.20,393.18 L55.70,391.67 L56.20,390.12 L56.69,388.55 L57.19,386.95 L57.69,385.33 L58.19,383.68 L58.68,382.00 L59.18,380.30 L59.68,378.58 L60.18,376.84 L60.67,375.08 L61.17,373.31 L61.67,371.51 L62.17,369.70 L62.66,367.83 L63.16,365.75 L63.66,363.49 L64.16,361.05 L64.65,358.45 L65.15,355.70 L65.65,352.83 L66.15,349.83 L66.64,346.73 L67.14,343.53 L67.64,340.27 L68.13,336.94 L68.63,333.56 L69.13,330.15 L69.63,326.71 L70.12,323.28 L70.62,319.85 L71.12,316.44 L71.62,313.07 L72.11,309.76 L72.61,306.50 L73.11,303.33 L73.61,300.25 L74.10,297.28 L74.60,294.42 L75.10,291.71 L75.60,289.14 L76.09,286.74 L76.59,284.52 L77.09,282.48 L77.59,280.66 L78.08,279.05 L78.58,277.68 L79.08,276.53 L79.58,275.42 L80.07,274.31 L80.57,273.22 L81.07,272.14 L81.57,271.08 L82.06,270.03 L82.56,269.01 L83.06,268.00 L83.56,267.01 L84.05,266.05 L84.55,265.11 L85.05,264.19 L85.55,263.30 L86.04,262.45 L86.54,261.62 L87.04,260.82 L87.54,260.06 L88.03,259.33 L88.53,258.64 L89.03,257.99 L89.53,257.38 L90.02,256.81 L90.52,256.28 L91.02,255.79 L91.51,255.36 L92.01,254.97 L92.51,254.62 L93.01,254.33 L93.50,254.09 L94.00,253.91 L94.50,253.78 L95.00,253.71 L95.49,253.69 L95.99,253.75 L96.49,253.88 L96.99,254.07 L97.48,254.34 L97.98,254.67 L98.48,255.06 L98.98,255.52 L99.47,256.03 L99.97,256.60 L100.47,257.23 L100.97,257.91 L101.46,258.64 L101.96,259.42 L102.46,260.24 L102.96,261.11 L103.45,262.02 L103.95,262.97 L104.45,263.95 L104.95,264.98 L105.44,266.03 L105.94,267.12 L106.44,268.23 L106.94,269.37 L107.43,270.54 L107.93,271.73 L108.43,272.93 L108.93,274.16 L109.42,275.40 L109.92,276.66 L110.42,277.92 L110.92,279.20 L111.41,280.48 L111.91,281.77 L112.41,283.17 L112.90,284.80 L113.40,286.63 L113.90,288.66 L114.40,290.86 L114.89,293.24 L115.39,295.77 L115.89,298.43 L116.39,301.23 L116.88,304.14 L117.38,307.15 L117.88,310.25 L118.38,313.42 L118.87,316.66 L119.37,319.94 L119.87,323.26 L120.37,326.59 L120.86,329.94 L121.36,333.28 L121.86,336.60 L122.36,339.89 L122.85,343.14 L123.35,346.32 L123.85,349.44 L124.35,352.47 L124.84,355.40 L125.34,358.22 L125.84,360.92 L126.34,363.47 L126.83,365.88 L127.33,368.12 L127.83,370.18 L128.33,372.05 L128.82,373.79 L129.32,375.53 L129.82,377.28 L130.32,379.04 L130.81,380.81 L131.31,382.57 L131.81,384.33 L132.31,386.08 L132.80,387.82 L133.30,389.53 L133.80,391.23 L134.29,392.90 L134.79,394.54 L135.29,396.14 L135.79,397.71 L136.28,399.23 L136.78,400.70 L137.28,402.12 L137.78,403.48 L138.27,404.79 L138.77,406.03 L139.27,407.19 L139.77,408.29 L140.26,409.31 L140.76,410.24 L141.26,411.09 L141.76,411.84 L142.25,412.51 L142.75,413.07 L143.25,413.53 L143.75,413.88 L144.24,414.11 L144.74,414.23 L145.24,414.23 L145.74,414.10 L146.23,413.84 L146.73,413.46 L147.23,412.96 L147.73,412.34 L148.22,411.62 L148.72,410.80 L149.22,409.87 L149.72,408.85 L150.21,407.75 L150.71,406.56 L151.21,405.29 L151.71,403.94 L152.20,402.53 L152.70,401.05 L153.20,399.51 L153.70,397.91 L154.19,396.26 L154.69,394.57 L155.19,392.84 L155.69,391.07 L156.18,389.27 L156.68,387.45 L157.18,385.60 L157.67,383.73 L158.17,381.86 L158.67,379.98 L159.17,378.09 L159.66,376.21 L160.16,374.33 L160.66,372.47 L161.16,370.62 L161.65,368.79 L162.15,366.81 L162.65,364.64 L163.15,362.29 L163.64,359.77 L164.14,357.10 L164.64,354.28 L165.14,351.34 L165.63,348.29 L166.13,345.14 L166.63,341.91 L167.13,338.61 L167.62,335.25 L168.12,331.86 L168.62,328.43 L169.12,325.00 L169.61,321.56 L170.11,318.14 L170.61,314.75 L171.11,311.41 L171.60,308.12 L172.10,304.91 L172.60,301.78 L173.10,298.75 L173.59,295.83 L174.09,293.05 L174.59,290.41 L175.09,287.92 L175.58,285.60 L176.08,283.48 L176.58,281.54 L177.08,279.83 L177.57,278.34 L178.07,277.09 L178.57,275.97 L179.06,274.86 L179.56,273.77 L180.06,272.68 L180.56,271.61 L181.05,270.56 L181.55,269.52 L182.05,268.50 L182.55,267.50 L183.04,266.52 L183.54,265.57 L184.04,264.64 L184.54,263.74 L185.03,262.87 L185.53,262.03 L186.03,261.22 L186.53,260.44 L187.02,259.69 L187.52,258.98 L188.02,258.31 L188.52,257.68 L189.01,257.09 L189.51,256.54 L190.01,256.03 L190.51,255.57 L191.00,255.15 L191.50,254.79 L192.00,254.47 L192.50,254.21 L192.99,254.00 L193.49,253.84 L193.99,253.74 L194.49,253.69 L194.98,253.71 L195.48,253.80 L195.98,253.97 L196.48,254.20 L196.97,254.50 L197.47,254.86 L197.97,255.28 L198.47,255.77 L198.96,256.31 L199.46,256.91 L199.96,257.56 L200.45,258.27 L200.95,259.02 L201.45,259.82 L201.95,260.67 L202.44,261.56 L202.94,262.49 L203.44,263.46 L203.94,264.46 L204.43,265.50 L204.93,266.57 L205.43,267.67 L205.93,268.80 L206.42,269.95 L206.92,271.13 L207.42,272.33 L207.92,273.54 L208.41,274.78 L208.91,276.03 L209.41,277.29 L209.91,278.56 L210.40,279.84 L210.90,281.13 L211.40,282.44 L211.90,283.96 L212.39,285.69 L212.89,287.62 L213.39,289.74 L213.89,292.03 L214.38,294.48 L214.88,297.08 L215.38,299.82 L215.88,302.67 L216.37,305.63 L216.87,308.69 L217.37,311.83 L217.87,315.03 L218.36,318.29 L218.86,321.60 L219.36,324.92 L219.86,328.27 L220.35,331.61 L220.85,334.95 L221.35,338.25 L221.85,341.52 L222.34,344.74 L222.84,347.89 L223.34,350.97 L223.83,353.95 L224.33,356.83 L224.83,359.58 L225.33,362.21 L225.82,364.70 L226.32,367.02 L226.82,369.17 L227.32,371.14 L227.81,372.92 L228.31,374.63 L228.81,376.33 L229.31,378.01 L229.80,379.68 L230.30,381.33 L230.80,382.95 L231.30,384.56 L231.79,386.15 L232.29,387.71 L232.79,389.25 L233.29,390.76 L233.78,392.24 L234.28,393.69 L234.78,395.12 L235.28,396.51 L235.77,397.86 L236.27,399.18 L236.77,400.46 L237.27,401.71 L237.76,402.91 L238.26,404.07 L238.76,405.19 L239.26,406.27 L239.75,407.30 L240.25,408.28 L240.75,409.21 L241.25,410.09 L241.74,410.92 L242.24,411.70 L242.74,412.42 L243.24,413.09 L243.73,413.70 L244.23,414.25" stroke="#21967f" stroke-width="1.35" fill="none" stroke-linejoin="round"/>
<polygon points="45.75,411.67 47.99,415.54 43.51,415.54" fill="#21967f"/>
<polygon points="62.29,366.67 64.53,370.54 60.05,370.54" fill="#21967f"/>
<polygon points="78.83,274.51 81.07,278.38 76.59,278.38" fill="#21967f"/>
<polygon points="95.37,251.10 97.61,254.98 93.13,254.98" fill="#21967f"/>
<polygon points="111.91,279.19 114.15,283.06 109.67,283.06" fill="#21967f"/>
<polygon points="128.45,369.91 130.69,373.78 126.21,373.78" fill="#21967f"/>
<polygon points="144.99,411.67 147.23,415.54 142.75,415.54" fill="#21967f"/>
<polygon points="161.53,366.67 163.77,370.54 159.29,370.54" fill="#21967f"/>
<polygon points="178.07,274.51 180.31,278.38 175.83,278.38" fill="#21967f"/>
<polygon points="194.61,251.10 196.85,254.98 192.37,254.98" fill="#21967f"/>
<polygon points="211.15,279.19 213.39,283.06 208.91,283.06" fill="#21967f"/>
<polygon points="227.69,369.91 229.93,373.78 225.45,373.78" fill="#21967f"/>
<polygon points="244.23,411.67 246.47,415.54 241.99,415.54" fill="#21967f"/>
<path d="M45.75,414.25 L46.25,413.57 L46.74,412.83 L47.24,412.03 L47.74,411.19 L48.24,410.29 L48.73,409.34 L49.23,408.34 L49.73,407.29 L50.23,406.20 L50.72,405.06 L51.22,403.87 L51.72,402.65 L52.22,401.38 L52.71,400.07 L53.21,398.72 L53.71,397.34 L54.21,395.92 L54.70,394.46 L55.20,392.98 L55.70,391.46 L56.20,389.90 L56.69,388.32 L57.19,386.71 L57.69,385.07 L58.19,383.41 L58.68,381.73 L59.18,380.02 L59.68,378.28 L60.18,376.53 L60.67,374.76 L61.17,372.97 L61.67,371.17 L62.17,369.35 L62.66,367.46 L63.16,365.37 L63.66,363.09 L64.16,360.64 L64.65,358.03 L65.15,355.27 L65.65,352.38 L66.15,349.36 L66.64,346.25 L67.14,343.04 L67.64,339.76 L68.13,336.42 L68.63,333.02 L69.13,329.60 L69.63,326.15 L70.12,322.70 L70.62,319.26 L71.12,315.84 L71.62,312.46 L72.11,309.13 L72.61,305.87 L73.11,302.68 L73.61,299.59 L74.10,296.61 L74.60,293.75 L75.10,291.02 L75.60,288.45 L76.09,286.04 L76.59,283.81 L77.09,281.77 L77.59,279.94 L78.08,278.34 L78.58,276.96 L79.08,275.81 L79.58,274.69 L80.07,273.59 L80.57,272.50 L81.07,271.42 L81.57,270.36 L82.06,269.31 L82.56,268.28 L83.06,267.27 L83.56,266.29 L84.05,265.32 L84.55,264.38 L85.05,263.47 L85.55,262.58 L86.04,261.72 L86.54,260.89 L87.04,260.10 L87.54,259.34 L88.03,258.61 L88.53,257.92 L89.03,257.27 L89.53,256.66 L90.02,256.08 L90.52,255.56 L91.02,255.07 L91.51,254.63 L92.01,254.24 L92.51,253.90 L93.01,253.61 L93.50,253.37 L94.00,253.19 L94.50,253.06 L95.00,252.99 L95.49,252.97 L95.99,253.03 L96.49,253.15 L96.99,253.35 L97.48,253.61 L97.98,253.93 L98.48,254.32 L98.98,254.77 L99.47,255.28 L99.97,255.84 L100.47,256.45 L100.97,257.12 L101.46,257.84 L101.96,258.61 L102.46,259.42 L102.96,260.27 L103.45,261.17 L103.95,262.11 L104.45,263.08 L104.95,264.09 L105.44,265.13 L105.94,266.20 L106.44,267.30 L106.94,268.43 L107.43,269.58 L107.93,270.75 L108.43,271.94 L108.93,273.16 L109.42,274.38 L109.92,275.63 L110.42,276.88 L110.92,278.14 L111.41,279.41 L111.91,280.69 L112.41,282.08 L112.90,283.70 L113.40,285.53 L113.90,287.55 L114.40,289.75 L114.89,292.12 L115.39,294.65 L115.89,297.32 L116.39,300.12 L116.88,303.04 L117.38,306.05 L117.88,309.16 L118.38,312.34 L118.87,315.59 L119.37,318.88 L119.87,322.21 L120.37,325.56 L120.86,328.92 L121.36,332.28 L121.86,335.61 L122.36,338.92 L122.85,342.18 L123.35,345.39 L123.85,348.52 L124.35,351.57 L124.84,354.52 L125.34,357.36 L125.84,360.08 L126.34,362.66 L126.83,365.09 L127.33,367.35 L127.83,369.43 L128.33,371.33 L128.82,373.08 L129.32,374.85 L129.82,376.63 L130.32,378.41 L130.81,380.20 L131.31,382.00 L131.81,383.78 L132.31,385.56 L132.80,387.33 L133.30,389.07 L133.80,390.80 L134.29,392.50 L134.79,394.16 L135.29,395.80 L135.79,397.39 L136.28,398.94 L136.78,400.44 L137.28,401.88 L137.78,403.27 L138.27,404.60 L138.77,405.86 L139.27,407.05 L139.77,408.17 L140.26,409.21 L140.76,410.16 L141.26,411.02 L141.76,411.80 L142.25,412.47 L142.75,413.04 L143.25,413.51 L143.75,413.87 L144.24,414.11 L144.74,414.23 L145.24,414.23 L145.74,414.10 L146.23,413.84 L146.73,413.45 L147.23,412.95 L147.73,412.33 L148.22,411.60 L148.72,410.77 L149.22,409.83 L149.72,408.81 L150.21,407.69 L150.71,406.49 L151.21,405.21 L151.71,403.85 L152.20,402.42 L152.70,400.93 L153.20,399.38 L153.70,397.77 L154.19,396.11 L154.69,394.40 L155.19,392.66 L155.69,390.87 L156.18,389.06 L156.68,387.22 L157.18,385.36 L157.67,383.48 L158.17,381.59 L158.67,379.69 L159.17,377.79 L159.66,375.90 L160.16,374.01 L160.66,372.13 L161.16,370.27 L161.65,368.43 L162.15,366.44 L162.65,364.26 L163.15,361.89 L163.64,359.35 L164.14,356.67 L164.64,353.84 L165.14,350.88 L165.63,347.82 L166.13,344.66 L166.63,341.41 L167.13,338.10 L167.62,334.72 L168.12,331.31 L168.62,327.88 L169.12,324.43 L169.61,320.98 L170.11,317.55 L170.61,314.15 L171.11,310.79 L171.60,307.49 L172.10,304.26 L172.60,301.12 L173.10,298.08 L173.59,295.16 L174.09,292.37 L174.59,289.72 L175.09,287.22 L175.58,284.90 L176.08,282.77 L176.58,280.83 L177.08,279.11 L177.57,277.62 L178.07,276.37 L178.57,275.25 L179.06,274.14 L179.56,273.04 L180.06,271.96 L180.56,270.89 L181.05,269.83 L181.55,268.79 L182.05,267.78 L182.55,266.78 L183.04,265.80 L183.54,264.85 L184.04,263.92 L184.54,263.02 L185.03,262.15 L185.53,261.30 L186.03,260.49 L186.53,259.71 L187.02,258.97 L187.52,258.26 L188.02,257.59 L188.52,256.96 L189.01,256.36 L189.51,255.81 L190.01,255.31 L190.51,254.85 L191.00,254.43 L191.50,254.07 L192.00,253.75 L192.50,253.49 L192.99,253.27 L193.49,253.12 L193.99,253.02 L194.49,252.97 L194.98,252.99 L195.48,253.08 L195.98,253.24 L196.48,253.47 L196.97,253.76 L197.47,254.12 L197.97,254.54 L198.47,255.01 L198.96,255.55 L199.46,256.14 L199.96,256.78 L200.45,257.48 L200.95,258.22 L201.45,259.01 L201.95,259.84 L202.44,260.72 L202.94,261.63 L203.44,262.59 L203.94,263.58 L204.43,264.60 L204.93,265.66 L205.43,266.75 L205.93,267.86 L206.42,269.00 L206.92,270.16 L207.42,271.35 L207.92,272.55 L208.41,273.77 L208.91,275.00 L209.41,276.25 L209.91,277.51 L210.40,278.78 L210.90,280.05 L211.40,281.36 L211.90,282.87 L212.39,284.59 L212.89,286.51 L213.39,288.63 L213.89,290.92 L214.38,293.37 L214.88,295.97 L215.38,298.71 L215.88,301.56 L216.37,304.53 L216.87,307.60 L217.37,310.74 L217.87,313.96 L218.36,317.23 L218.86,320.54 L219.36,323.88 L219.86,327.24 L220.35,330.60 L220.85,333.95 L221.35,337.27 L221.85,340.56 L222.34,343.79 L222.84,346.96 L223.34,350.06 L223.83,353.06 L224.33,355.96 L224.83,358.74 L225.33,361.39 L225.82,363.89 L226.32,366.24 L226.82,368.41 L227.32,370.41 L227.81,372.21 L228.31,373.94 L228.81,375.66 L229.31,377.36 L229.80,379.05 L230.30,380.72 L230.80,382.37 L231.30,384.00 L231.79,385.60 L232.29,387.19 L232.79,388.74 L233.29,390.27 L233.78,391.78 L234.28,393.25 L234.78,394.69 L235.28,396.10 L235.77,397.47 L236.27,398.81 L236.77,400.12 L237.27,401.38 L237.76,402.60 L238.26,403.79 L238.76,404.93 L239.26,406.03 L239.75,407.08 L240.25,408.08 L240.75,409.04 L241.25,409.94 L241.74,410.80 L242.24,411.60 L242.74,412.35 L243.24,413.04 L243.73,413.67 L244.23,414.25" stroke="#236e7e" stroke-width="1.35" fill="none" stroke-linejoin="round"/>
<polygon points="48.34,414.25 44.46,416.49 44.46,412.01" fill="#236e7e"/>
<polygon points="64.88,368.89 61.00,371.13 61.00,366.65" fill="#236e7e"/>
<polygon points="81.41,276.37 77.54,278.61 77.54,274.13" fill="#236e7e"/>
<polygon points="97.95,252.97 94.08,255.21 94.08,250.73" fill="#236e7e"/>
<polygon points="114.49,280.69 110.62,282.93 110.62,278.45" fill="#236e7e"/>
<polygon points="131.03,371.77 127.16,374.01 127.16,369.53" fill="#236e7e"/>
<polygon points="147.58,414.25 143.70,416.49 143.70,412.01" fill="#236e7e"/>
<polygon points="164.12,368.89 160.24,371.13 160.24,366.65" fill="#236e7e"/>
<polygon points="180.66,276.37 176.78,278.61 176.78,274.13" fill="#236e7e"/>
<polygon points="197.19,252.97 193.32,255.21 193.32,250.73" fill="#236e7e"/>
<polygon points="213.73,280.69 209.86,282.93 209.86,278.45" fill="#236e7e"/>
<polygon points="230.28,371.77 226.40,374.01 226.40,369.53" fill="#236e7e"/>
<polygon points="246.81,414.25 242.94,416.49 242.94,412.01" fill="#236e7e"/>
<path d="M45.75,414.25 L46.25,413.57 L46.74,412.84 L47.24,412.05 L47.74,411.20 L48.24,410.31 L48.73,409.36 L49.23,408.36 L49.73,407.32 L50.23,406.23 L50.72,405.09 L51.22,403.91 L51.72,402.68 L52.22,401.41 L52.71,400.10 L53.21,398.76 L53.71,397.37 L54.21,395.95 L54.70,394.50 L55.20,393.01 L55.70,391.48 L56.20,389.93 L56.69,388.35 L57.19,386.73 L57.69,385.10 L58.19,383.43 L58.68,381.74 L59.18,380.03 L59.68,378.30 L60.18,376.54 L60.67,374.77 L61.17,372.98 L61.67,371.17 L62.17,369.35 L62.66,367.46 L63.16,365.36 L63.66,363.08 L64.16,360.62 L64.65,358.00 L65.15,355.23 L65.65,352.33 L66.15,349.31 L66.64,346.18 L67.14,342.96 L67.64,339.66 L68.13,336.30 L68.63,332.90 L69.13,329.46 L69.63,326.00 L70.12,322.53 L70.62,319.07 L71.12,315.64 L71.62,312.24 L72.11,308.90 L72.61,305.62 L73.11,302.42 L73.61,299.31 L74.10,296.32 L74.60,293.45 L75.10,290.71 L75.60,288.13 L76.09,285.71 L76.59,283.47 L77.09,281.43 L77.59,279.59 L78.08,277.98 L78.58,276.60 L79.08,275.45 L79.58,274.33 L80.07,273.23 L80.57,272.14 L81.07,271.06 L81.57,269.99 L82.06,268.95 L82.56,267.92 L83.06,266.91 L83.56,265.92 L84.05,264.96 L84.55,264.02 L85.05,263.10 L85.55,262.22 L86.04,261.36 L86.54,260.53 L87.04,259.73 L87.54,258.97 L88.03,258.25 L88.53,257.56 L89.03,256.90 L89.53,256.29 L90.02,255.72 L90.52,255.19 L91.02,254.71 L91.51,254.27 L92.01,253.88 L92.51,253.54 L93.01,253.25 L93.50,253.01 L94.00,252.83 L94.50,252.70 L95.00,252.63 L95.49,252.61 L95.99,252.67 L96.49,252.79 L96.99,252.99 L97.48,253.25 L97.98,253.57 L98.48,253.96 L98.98,254.41 L99.47,254.92 L99.97,255.48 L100.47,256.09 L100.97,256.76 L101.46,257.48 L101.96,258.25 L102.46,259.06 L102.96,259.91 L103.45,260.81 L103.95,261.75 L104.45,262.72 L104.95,263.73 L105.44,264.77 L105.94,265.84 L106.44,266.94 L106.94,268.07 L107.43,269.22 L107.93,270.39 L108.43,271.58 L108.93,272.80 L109.42,274.02 L109.92,275.27 L110.42,276.52 L110.92,277.78 L111.41,279.05 L111.91,280.33 L112.41,281.72 L112.90,283.34 L113.40,285.16 L113.90,287.18 L114.40,289.38 L114.89,291.75 L115.39,294.28 L115.89,296.95 L116.39,299.74 L116.88,302.65 L117.38,305.67 L117.88,308.77 L118.38,311.95 L118.87,315.19 L119.37,318.48 L119.87,321.81 L120.37,325.16 L120.86,328.51 L121.36,331.87 L121.86,335.21 L122.36,338.51 L122.85,341.77 L123.35,344.98 L123.85,348.11 L124.35,351.16 L124.84,354.12 L125.34,356.96 L125.84,359.68 L126.34,362.27 L126.83,364.70 L127.33,366.97 L127.83,369.06 L128.33,370.97 L128.82,372.73 L129.32,374.51 L129.82,376.30 L130.32,378.10 L130.81,379.90 L131.31,381.70 L131.81,383.50 L132.31,385.30 L132.80,387.07 L133.30,388.84 L133.80,390.58 L134.29,392.29 L134.79,393.97 L135.29,395.62 L135.79,397.22 L136.28,398.79 L136.78,400.30 L137.28,401.76 L137.78,403.16 L138.27,404.50 L138.77,405.78 L139.27,406.98 L139.77,408.11 L140.26,409.15 L140.76,410.12 L141.26,410.99 L141.76,411.77 L142.25,412.45 L142.75,413.03 L143.25,413.50 L143.75,413.86 L144.24,414.11 L144.74,414.23 L145.24,414.23 L145.74,414.10 L146.23,413.84 L146.73,413.45 L147.23,412.95 L147.73,412.33 L148.22,411.60 L148.72,410.77 L149.22,409.84 L149.72,408.81 L150.21,407.70 L150.71,406.49 L151.21,405.21 L151.71,403.86 L152.20,402.43 L152.70,400.94 L153.20,399.39 L153.70,397.78 L154.19,396.12 L154.69,394.41 L155.19,392.67 L155.69,390.89 L156.18,389.07 L156.68,387.23 L157.18,385.37 L157.67,383.49 L158.17,381.60 L158.67,379.70 L159.17,377.80 L159.66,375.90 L160.16,374.01 L160.66,372.13 L161.16,370.27 L161.65,368.43 L162.15,366.43 L162.65,364.25 L163.15,361.87 L163.64,359.33 L164.14,356.63 L164.64,353.80 L165.14,350.83 L165.63,347.75 L166.13,344.58 L166.63,341.32 L167.13,337.99 L167.62,334.61 L168.12,331.18 L168.62,327.73 L169.12,324.26 L169.61,320.80 L170.11,317.35 L170.61,313.93 L171.11,310.56 L171.60,307.25 L172.10,304.01 L172.60,300.85 L173.10,297.80 L173.59,294.87 L174.09,292.06 L174.59,289.40 L175.09,286.90 L175.58,284.57 L176.08,282.42 L176.58,280.48 L177.08,278.76 L177.57,277.26 L178.07,276.01 L178.57,274.89 L179.06,273.78 L179.56,272.68 L180.06,271.60 L180.56,270.52 L181.05,269.47 L181.55,268.43 L182.05,267.41 L182.55,266.41 L183.04,265.44 L183.54,264.48 L184.04,263.56 L184.54,262.66 L185.03,261.78 L185.53,260.94 L186.03,260.13 L186.53,259.35 L187.02,258.60 L187.52,257.90 L188.02,257.23 L188.52,256.59 L189.01,256.00 L189.51,255.45 L190.01,254.95 L190.51,254.49 L191.00,254.07 L191.50,253.71 L192.00,253.39 L192.50,253.13 L192.99,252.91 L193.49,252.76 L193.99,252.66 L194.49,252.61 L194.98,252.63 L195.48,252.72 L195.98,252.88 L196.48,253.11 L196.97,253.40 L197.47,253.76 L197.97,254.18 L198.47,254.65 L198.96,255.19 L199.46,255.78 L199.96,256.42 L200.45,257.12 L200.95,257.86 L201.45,258.65 L201.95,259.48 L202.44,260.36 L202.94,261.27 L203.44,262.23 L203.94,263.22 L204.43,264.24 L204.93,265.30 L205.43,266.39 L205.93,267.50 L206.42,268.64 L206.92,269.80 L207.42,270.99 L207.92,272.19 L208.41,273.41 L208.91,274.64 L209.41,275.89 L209.91,277.15 L210.40,278.42 L210.90,279.69 L211.40,281.00 L211.90,282.50 L212.39,284.23 L212.89,286.15 L213.39,288.26 L213.89,290.55 L214.38,293.00 L214.88,295.60 L215.38,298.33 L215.88,301.18 L216.37,304.15 L216.87,307.21 L217.37,310.35 L217.87,313.56 L218.36,316.83 L218.86,320.14 L219.36,323.48 L219.86,326.84 L220.35,330.19 L220.85,333.54 L221.35,336.86 L221.85,340.15 L222.34,343.38 L222.84,346.56 L223.34,349.65 L223.83,352.65 L224.33,355.56 L224.83,358.34 L225.33,360.99 L225.82,363.50 L226.32,365.86 L226.82,368.04 L227.32,370.04 L227.81,371.85 L228.31,373.59 L228.81,375.32 L229.31,377.03 L229.80,378.73 L230.30,380.41 L230.80,382.07 L231.30,383.71 L231.79,385.32 L232.29,386.91 L232.79,388.48 L233.29,390.02 L233.78,391.53 L234.28,393.01 L234.78,394.46 L235.28,395.88 L235.77,397.26 L236.27,398.61 L236.77,399.93 L237.27,401.20 L237.76,402.43 L238.26,403.63 L238.76,404.78 L239.26,405.89 L239.75,406.95 L240.25,407.97 L240.75,408.94 L241.25,409.85 L241.74,410.72 L242.24,411.54 L242.74,412.30 L243.24,413.01 L243.73,413.66 L244.23,414.25" stroke="#343a7c" stroke-width="1.35" fill="none" stroke-linejoin="round"/>
<polygon points="43.16,414.25 47.04,412.01 47.04,416.49" fill="#343a7c"/>
<polygon points="59.70,368.89 63.58,366.65 63.58,371.13" fill="#343a7c"/>
<polygon points="76.25,276.01 80.12,273.77 80.12,278.25" fill="#343a7c"/>
<polygon points="92.79,252.61 96.66,250.37 96.66,254.85" fill="#343a7c"/>
<polygon points="109.33,280.33 113.20,278.09 113.20,282.57" fill="#343a7c"/>
<polygon points="125.86,371.41 129.74,369.17 129.74,373.65" fill="#343a7c"/>
<polygon points="142.41,414.25 146.28,412.01 146.28,416.49" fill="#343a7c"/>
<polygon points="158.94,368.89 162.82,366.65 162.82,371.13" fill="#343a7c"/>
<polygon points="175.48,276.01 179.36,273.77 179.36,278.25" fill="#343a7c"/>
<polygon points="192.02,252.61 195.90,250.37 195.90,254.85" fill="#343a7c"/>
<polygon points="208.56,280.33 212.44,278.09 212.44,282.57" fill="#343a7c"/>
<polygon points="225.10,371.41 228.98,369.17 228.98,373.65" fill="#343a7c"/>
<polygon points="241.64,414.25 245.52,412.01 245.52,416.49" fill="#343a7c"/>
<path d="M45.75,414.25 L46.25,413.56 L46.74,412.81 L47.24,412.00 L47.74,411.14 L48.24,410.23 L48.73,409.27 L49.23,408.26 L49.73,407.21 L50.23,406.10 L50.72,404.95 L51.22,403.76 L51.72,402.52 L52.22,401.24 L52.71,399.92 L53.21,398.57 L53.71,397.17 L54.21,395.74 L54.70,394.28 L55.20,392.78 L55.70,391.24 L56.20,389.68 L56.69,388.09 L57.19,386.47 L57.69,384.82 L58.19,383.15 L58.68,381.45 L59.18,379.73 L59.68,377.99 L60.18,376.22 L60.67,374.44 L61.17,372.64 L61.67,370.82 L62.17,368.99 L62.66,367.09 L63.16,364.99 L63.66,362.70 L64.16,360.24 L64.65,357.62 L65.15,354.85 L65.65,351.94 L66.15,348.92 L66.64,345.79 L67.14,342.58 L67.64,339.29 L68.13,335.93 L68.63,332.53 L69.13,329.10 L69.63,325.64 L70.12,322.18 L70.62,318.73 L71.12,315.30 L71.62,311.91 L72.11,308.57 L72.61,305.30 L73.11,302.10 L73.61,299.00 L74.10,296.01 L74.60,293.14 L75.10,290.40 L75.60,287.81 L76.09,285.39 L76.59,283.15 L77.09,281.10 L77.59,279.26 L78.08,277.64 L78.58,276.25 L79.08,275.08 L79.58,273.95 L80.07,272.83 L80.57,271.73 L81.07,270.63 L81.57,269.55 L82.06,268.49 L82.56,267.45 L83.06,266.43 L83.56,265.42 L84.05,264.44 L84.55,263.49 L85.05,262.56 L85.55,261.66 L86.04,260.79 L86.54,259.95 L87.04,259.14 L87.54,258.36 L88.03,257.63 L88.53,256.92 L89.03,256.26 L89.53,255.64 L90.02,255.06 L90.52,254.52 L91.02,254.03 L91.51,253.58 L92.01,253.19 L92.51,252.84 L93.01,252.54 L93.50,252.30 L94.00,252.11 L94.50,251.98 L95.00,251.91 L95.49,251.89 L95.99,251.95 L96.49,252.07 L96.99,252.27 L97.48,252.53 L97.98,252.85 L98.48,253.24 L98.98,253.69 L99.47,254.19 L99.97,254.76 L100.47,255.37 L100.97,256.04 L101.46,256.76 L101.96,257.52 L102.46,258.34 L102.96,259.19 L103.45,260.09 L103.95,261.02 L104.45,261.99 L104.95,263.00 L105.44,264.04 L105.94,265.11 L106.44,266.21 L106.94,267.34 L107.43,268.49 L107.93,269.67 L108.43,270.86 L108.93,272.07 L109.42,273.30 L109.92,274.54 L110.42,275.80 L110.92,277.06 L111.41,278.33 L111.91,279.61 L112.41,281.01 L112.90,282.62 L113.40,284.45 L113.90,286.48 L114.40,288.68 L114.89,291.06 L115.39,293.59 L115.89,296.27 L116.39,299.07 L116.88,301.99 L117.38,305.02 L117.88,308.13 L118.38,311.32 L118.87,314.57 L119.37,317.88 L119.87,321.21 L120.37,324.58 L120.86,327.95 L121.36,331.31 L121.86,334.66 L122.36,337.98 L122.85,341.26 L123.35,344.48 L123.85,347.63 L124.35,350.69 L124.84,353.66 L125.34,356.52 L125.84,359.25 L126.34,361.85 L126.83,364.30 L127.33,366.58 L127.83,368.69 L128.33,370.60 L128.82,372.38 L129.32,374.17 L129.82,375.97 L130.32,377.78 L130.81,379.60 L131.31,381.42 L131.81,383.23 L132.31,385.04 L132.80,386.83 L133.30,388.61 L133.80,390.36 L134.29,392.09 L134.79,393.79 L135.29,395.45 L135.79,397.07 L136.28,398.65 L136.78,400.17 L137.28,401.65 L137.78,403.06 L138.27,404.41 L138.77,405.70 L139.27,406.91 L139.77,408.05 L140.26,409.11 L140.76,410.08 L141.26,410.96 L141.76,411.75 L142.25,412.43 L142.75,413.02 L143.25,413.50 L143.75,413.86 L144.24,414.11 L144.74,414.23 L145.24,414.23 L145.74,414.10 L146.23,413.83 L146.73,413.44 L147.23,412.93 L147.73,412.31 L148.22,411.58 L148.72,410.74 L149.22,409.79 L149.72,408.76 L150.21,407.63 L150.71,406.42 L151.21,405.13 L151.71,403.76 L152.20,402.32 L152.70,400.82 L153.20,399.25 L153.70,397.63 L154.19,395.95 L154.69,394.23 L155.19,392.47 L155.69,390.68 L156.18,388.85 L156.68,386.99 L157.18,385.12 L157.67,383.22 L158.17,381.32 L158.67,379.41 L159.17,377.49 L159.66,375.58 L160.16,373.68 L160.66,371.79 L161.16,369.92 L161.65,368.06 L162.15,366.06 L162.65,363.87 L163.15,361.49 L163.64,358.95 L164.14,356.25 L164.64,353.41 L165.14,350.45 L165.63,347.37 L166.13,344.20 L166.63,340.94 L167.13,337.62 L167.62,334.24 L168.12,330.82 L168.62,327.37 L169.12,323.91 L169.61,320.45 L170.11,317.01 L170.61,313.60 L171.11,310.23 L171.60,306.92 L172.10,303.69 L172.60,300.54 L173.10,297.49 L173.59,294.55 L174.09,291.75 L174.59,289.09 L175.09,286.58 L175.58,284.25 L176.08,282.10 L176.58,280.15 L177.08,278.42 L177.57,276.91 L178.07,275.65 L178.57,274.52 L179.06,273.39 L179.56,272.28 L180.06,271.18 L180.56,270.09 L181.05,269.02 L181.55,267.97 L182.05,266.94 L182.55,265.92 L183.04,264.93 L183.54,263.96 L184.04,263.02 L184.54,262.11 L185.03,261.22 L185.53,260.36 L186.03,259.54 L186.53,258.75 L187.02,257.99 L187.52,257.27 L188.02,256.59 L188.52,255.94 L189.01,255.34 L189.51,254.78 L190.01,254.27 L190.51,253.80 L191.00,253.38 L191.50,253.01 L192.00,252.69 L192.50,252.42 L192.99,252.20 L193.49,252.04 L193.99,251.94 L194.49,251.89 L194.98,251.91 L195.48,252.00 L195.98,252.16 L196.48,252.39 L196.97,252.68 L197.47,253.04 L197.97,253.46 L198.47,253.93 L198.96,254.47 L199.46,255.06 L199.96,255.70 L200.45,256.39 L200.95,257.14 L201.45,257.92 L201.95,258.76 L202.44,259.63 L202.94,260.55 L203.44,261.50 L203.94,262.49 L204.43,263.52 L204.93,264.57 L205.43,265.66 L205.93,266.77 L206.42,267.91 L206.92,269.08 L207.42,270.26 L207.92,271.46 L208.41,272.68 L208.91,273.92 L209.41,275.17 L209.91,276.43 L210.40,277.70 L210.90,278.97 L211.40,280.28 L211.90,281.79 L212.39,283.51 L212.89,285.44 L213.39,287.56 L213.89,289.85 L214.38,292.31 L214.88,294.91 L215.38,297.65 L215.88,300.52 L216.37,303.49 L216.87,306.56 L217.37,309.72 L217.87,312.94 L218.36,316.22 L218.86,319.54 L219.36,322.89 L219.86,326.26 L220.35,329.63 L220.85,332.99 L221.35,336.33 L221.85,339.63 L222.34,342.88 L222.84,346.06 L223.34,349.17 L223.83,352.19 L224.33,355.11 L224.83,357.90 L225.33,360.57 L225.82,363.09 L226.32,365.46 L226.82,367.66 L227.32,369.67 L227.81,371.49 L228.31,373.25 L228.81,374.99 L229.31,376.71 L229.80,378.42 L230.30,380.11 L230.80,381.78 L231.30,383.43 L231.79,385.06 L232.29,386.66 L232.79,388.24 L233.29,389.79 L233.78,391.31 L234.28,392.80 L234.78,394.26 L235.28,395.69 L235.77,397.09 L236.27,398.45 L236.77,399.77 L237.27,401.05 L237.76,402.30 L238.26,403.50 L238.76,404.67 L239.26,405.78 L239.75,406.86 L240.25,407.88 L240.75,408.86 L241.25,409.79 L241.74,410.67 L242.24,411.50 L242.74,412.27 L243.24,412.99 L243.73,413.65 L244.23,414.25" stroke="#0f1a2a" stroke-width="1.8" fill="none" stroke-linejoin="round"/>
<polygon points="45.75,411.34 46.44,413.30 48.52,413.35 46.87,414.61 47.46,416.61 45.75,415.43 44.04,416.61 44.63,414.61 42.98,413.35 45.06,413.30" fill="#0f1a2a"/>
<polygon points="62.29,365.62 62.98,367.58 65.06,367.63 63.41,368.89 64.00,370.89 62.29,369.70 60.58,370.89 61.17,368.89 59.52,367.63 61.60,367.58" fill="#0f1a2a"/>
<polygon points="78.83,272.74 79.52,274.70 81.60,274.75 79.95,276.01 80.54,278.01 78.83,276.82 77.12,278.01 77.71,276.01 76.06,274.75 78.14,274.70" fill="#0f1a2a"/>
<polygon points="95.37,248.98 96.06,250.94 98.14,250.99 96.49,252.25 97.08,254.25 95.37,253.07 93.66,254.25 94.25,252.25 92.60,250.99 94.68,250.94" fill="#0f1a2a"/>
<polygon points="111.91,276.70 112.60,278.66 114.68,278.71 113.03,279.97 113.62,281.97 111.91,280.79 110.20,281.97 110.79,279.97 109.14,278.71 111.22,278.66" fill="#0f1a2a"/>
<polygon points="128.45,368.14 129.14,370.10 131.22,370.15 129.57,371.41 130.16,373.41 128.45,372.23 126.74,373.41 127.33,371.41 125.68,370.15 127.76,370.10" fill="#0f1a2a"/>
<polygon points="144.99,411.34 145.68,413.30 147.76,413.35 146.11,414.61 146.70,416.61 144.99,415.43 143.28,416.61 143.87,414.61 142.22,413.35 144.30,413.30" fill="#0f1a2a"/>
<polygon points="161.53,365.62 162.22,367.58 164.30,367.63 162.65,368.89 163.24,370.89 161.53,369.70 159.82,370.89 160.41,368.89 158.76,367.63 160.84,367.58" fill="#0f1a2a"/>
<polygon points="178.07,272.74 178.76,274.70 180.84,274.75 179.19,276.01 179.78,278.01 178.07,276.82 176.36,278.01 176.95,276.01 175.30,274.75 177.38,274.70" fill="#0f1a2a"/>
<polygon points="194.61,248.98 195.30,250.94 197.38,250.99 195.73,252.25 196.32,254.25 194.61,253.07 192.90,254.25 193.49,252.25 191.84,250.99 193.92,250.94" fill="#0f1a2a"/>
<polygon points="211.15,276.70 211.84,278.66 213.92,278.71 212.27,279.97 212.86,281.97 211.15,280.79 209.44,281.97 210.03,279.97 208.38,278.71 210.46,278.66" fill="#0f1a2a"/>
<polygon points="227.69,368.14 228.38,370.10 230.46,370.15 228.81,371.41 229.40,373.41 227.69,372.23 225.98,373.41 226.57,371.41 224.92,370.15 227.00,370.10" fill="#0f1a2a"/>
<polygon points="244.23,411.34 244.92,413.30 247.00,413.35 245.35,414.61 245.94,416.61 244.23,415.43 242.52,416.61 243.11,414.61 241.46,413.35 243.54,413.30" fill="#0f1a2a"/>
<rect x="36.3" y="243.6" width="218.00" height="178.70" fill="none" stroke="#999" stroke-width="1.1"/>
<line x1="33.699999999999996" y1="414.25" x2="36.3" y2="414.25" stroke="#666" stroke-width="0.8"/>
<text transform="translate(32.50,417.25) scale(0.93,1)" text-anchor="end" style="font-family:'Liberation Sans', sans-serif;font-size:8.8px;" fill="#111">0</text>
<line x1="33.699999999999996" y1="378.25" x2="36.3" y2="378.25" stroke="#666" stroke-width="0.8"/>
<text transform="translate(32.50,381.25) scale(0.93,1)" text-anchor="end" style="font-family:'Liberation Sans', sans-serif;font-size:8.8px;" fill="#111">100</text>
<line x1="33.699999999999996" y1="342.25" x2="36.3" y2="342.25" stroke="#666" stroke-width="0.8"/>
<text transform="translate(32.50,345.25) scale(0.93,1)" text-anchor="end" style="font-family:'Liberation Sans', sans-serif;font-size:8.8px;" fill="#111">200</text>
<line x1="33.699999999999996" y1="306.25" x2="36.3" y2="306.25" stroke="#666" stroke-width="0.8"/>
<text transform="translate(32.50,309.25) scale(0.93,1)" text-anchor="end" style="font-family:'Liberation Sans', sans-serif;font-size:8.8px;" fill="#111">300</text>
<line x1="33.699999999999996" y1="270.25" x2="36.3" y2="270.25" stroke="#666" stroke-width="0.8"/>
<text transform="translate(32.50,273.25) scale(0.93,1)" text-anchor="end" style="font-family:'Liberation Sans', sans-serif;font-size:8.8px;" fill="#111">400</text>
<line x1="45.75" y1="422.3" x2="45.75" y2="424.90000000000003" stroke="#666" stroke-width="0.8"/>
<text transform="translate(45.75,433.90) scale(0.93,1)" text-anchor="middle" style="font-family:'Liberation Sans', sans-serif;font-size:8.8px;" fill="#111">0</text>
<line x1="62.29" y1="422.3" x2="62.29" y2="424.90000000000003" stroke="#666" stroke-width="0.8"/>
<text transform="translate(62.29,433.90) scale(0.93,1)" text-anchor="middle" style="font-family:'Liberation Sans', sans-serif;font-size:8.8px;" fill="#111">1</text>
<line x1="78.83" y1="422.3" x2="78.83" y2="424.90000000000003" stroke="#666" stroke-width="0.8"/>
<text transform="translate(78.83,433.90) scale(0.93,1)" text-anchor="middle" style="font-family:'Liberation Sans', sans-serif;font-size:8.8px;" fill="#111">2</text>
<line x1="95.37" y1="422.3" x2="95.37" y2="424.90000000000003" stroke="#666" stroke-width="0.8"/>
<text transform="translate(95.37,433.90) scale(0.93,1)" text-anchor="middle" style="font-family:'Liberation Sans', sans-serif;font-size:8.8px;" fill="#111">3</text>
<line x1="111.91" y1="422.3" x2="111.91" y2="424.90000000000003" stroke="#666" stroke-width="0.8"/>
<text transform="translate(111.91,433.90) scale(0.93,1)" text-anchor="middle" style="font-family:'Liberation Sans', sans-serif;font-size:8.8px;" fill="#111">4</text>
<line x1="128.45" y1="422.3" x2="128.45" y2="424.90000000000003" stroke="#666" stroke-width="0.8"/>
<text transform="translate(128.45,433.90) scale(0.93,1)" text-anchor="middle" style="font-family:'Liberation Sans', sans-serif;font-size:8.8px;" fill="#111">5</text>
<line x1="144.99" y1="422.3" x2="144.99" y2="424.90000000000003" stroke="#666" stroke-width="0.8"/>
<text transform="translate(144.99,433.90) scale(0.93,1)" text-anchor="middle" style="font-family:'Liberation Sans', sans-serif;font-size:8.8px;" fill="#111">6</text>
<line x1="161.53" y1="422.3" x2="161.53" y2="424.90000000000003" stroke="#666" stroke-width="0.8"/>
<text transform="translate(161.53,433.90) scale(0.93,1)" text-anchor="middle" style="font-family:'Liberation Sans', sans-serif;font-size:8.8px;" fill="#111">7</text>
<line x1="178.07" y1="422.3" x2="178.07" y2="424.90000000000003" stroke="#666" stroke-width="0.8"/>
<text transform="translate(178.07,433.90) scale(0.93,1)" text-anchor="middle" style="font-family:'Liberation Sans', sans-serif;font-size:8.8px;" fill="#111">8</text>
<line x1="194.61" y1="422.3" x2="194.61" y2="424.90000000000003" stroke="#666" stroke-width="0.8"/>
<text transform="translate(194.61,433.90) scale(0.93,1)" text-anchor="middle" style="font-family:'Liberation Sans', sans-serif;font-size:8.8px;" fill="#111">9</text>
<line x1="211.15" y1="422.3" x2="211.15" y2="424.90000000000003" stroke="#666" stroke-width="0.8"/>
<text transform="translate(211.15,433.90) scale(0.93,1)" text-anchor="middle" style="font-family:'Liberation Sans', sans-serif;font-size:8.8px;" fill="#111">10</text>
<line x1="227.69" y1="422.3" x2="227.69" y2="424.90000000000003" stroke="#666" stroke-width="0.8"/>
<text transform="translate(227.69,433.90) scale(0.93,1)" text-anchor="middle" style="font-family:'Liberation Sans', sans-serif;font-size:8.8px;" fill="#111">11</text>
<line x1="244.23" y1="422.3" x2="244.23" y2="424.90000000000003" stroke="#666" stroke-width="0.8"/>
<text transform="translate(244.23,433.90) scale(0.93,1)" text-anchor="middle" style="font-family:'Liberation Sans', sans-serif;font-size:8.8px;" fill="#111">12</text>
<text transform="translate(145.30,444.50) scale(0.93,1)" text-anchor="middle" style="font-family:'Liberation Sans', sans-serif;font-size:9.6px;" fill="#111">Step</text>
<text transform="translate(13.50,333.20) rotate(-90) scale(0.93,1)" text-anchor="middle" style="font-family:'Liberation Sans', sans-serif;font-size:10.8px;" fill="#111"><tspan font-style="italic">E</tspan><tspan dy="2.2" font-size="7px">s</tspan><tspan dy="-2.2">(</tspan><tspan font-style="italic">mJ</tspan>/<tspan font-style="italic">m</tspan><tspan dy="-5.4" font-size="7.5px">2</tspan><tspan dy="5.4">)</tspan></text>
<rect x="123.9" y="247.5" width="43.4" height="64" rx="1.5" fill="#fff" fill-opacity="0.85" stroke="#e0e0e0" stroke-width="0.7"/>
<circle cx="132.50" cy="253.40" r="2.30" fill="#dce23a"/>
<text transform="translate(145.90,255.90) scale(0.93,1)" style="font-family:'Liberation Sans', sans-serif;font-size:7.2px;" fill="#111">1x1x1</text>
<polygon points="132.50,266.83 130.31,263.04 134.69,263.04" fill="#68b85a"/>
<text transform="translate(145.90,266.80) scale(0.93,1)" style="font-family:'Liberation Sans', sans-serif;font-size:7.2px;" fill="#111">1x1x2</text>
<polygon points="132.50,272.67 134.69,276.46 130.31,276.46" fill="#21967f"/>
<text transform="translate(145.90,277.70) scale(0.93,1)" style="font-family:'Liberation Sans', sans-serif;font-size:7.2px;" fill="#111">1x1x3</text>
<polygon points="135.03,286.10 131.24,288.29 131.23,283.91" fill="#236e7e"/>
<text transform="translate(145.90,288.60) scale(0.93,1)" style="font-family:'Liberation Sans', sans-serif;font-size:7.2px;" fill="#111">1x1x4</text>
<polygon points="129.97,297.00 133.76,294.81 133.76,299.19" fill="#343a7c"/>
<text transform="translate(145.90,299.50) scale(0.93,1)" style="font-family:'Liberation Sans', sans-serif;font-size:7.2px;" fill="#111">1x1x5</text>
<polygon points="132.50,305.05 133.18,306.97 135.21,307.02 133.59,308.26 134.18,310.21 132.50,309.05 130.82,310.21 131.41,308.26 129.79,307.02 131.82,306.97" fill="#0f1a2a"/>
<text transform="translate(145.90,310.40) scale(0.93,1)" style="font-family:'Liberation Sans', sans-serif;font-size:7.2px;" fill="#111">1x1x6</text>
<text transform="translate(257.00,234.60)" style="font-family:'Liberation Sans', sans-serif;font-size:12px;font-weight:bold" fill="#111">d</text>
<path d="M309.70,243.8 L309.70,422.3 M326.25,243.8 L326.25,422.3 M342.80,243.8 L342.80,422.3 M359.35,243.8 L359.35,422.3 M375.90,243.8 L375.90,422.3 M392.45,243.8 L392.45,422.3 M409.00,243.8 L409.00,422.3 M425.55,243.8 L425.55,422.3 M442.10,243.8 L442.10,422.3 M458.65,243.8 L458.65,422.3 M475.20,243.8 L475.20,422.3 M491.75,243.8 L491.75,422.3 M508.30,243.8 L508.30,422.3 M300,408.50 L517,408.50 M300,381.50 L517,381.50 M300,354.50 L517,354.50 M300,327.50 L517,327.50 M300,300.50 L517,300.50 M300,273.50 L517,273.50 M300,246.50 L517,246.50" stroke="#e6e6e6" stroke-width="0.8" stroke-dasharray="2.6,1.6" fill="none"/>
<path d="M309.70,298.34 L310.20,298.80 L310.70,299.29 L311.19,299.83 L311.69,300.41 L312.19,301.02 L312.69,301.68 L313.18,302.37 L313.68,303.09 L314.18,303.85 L314.68,304.65 L315.18,305.48 L315.67,306.33 L316.17,307.22 L316.67,308.14 L317.17,309.09 L317.66,310.06 L318.16,311.06 L318.66,312.09 L319.16,313.14 L319.65,314.22 L320.15,315.31 L320.65,316.43 L321.15,317.57 L321.65,318.73 L322.14,319.91 L322.64,321.10 L323.14,322.32 L323.64,323.54 L324.13,324.78 L324.63,326.04 L325.13,327.31 L325.63,328.59 L326.13,329.88 L326.62,331.22 L327.12,332.70 L327.62,334.32 L328.12,336.06 L328.61,337.93 L329.11,339.90 L329.61,341.97 L330.11,344.12 L330.61,346.35 L331.10,348.65 L331.60,351.00 L332.10,353.40 L332.60,355.83 L333.09,358.29 L333.59,360.77 L334.09,363.25 L334.59,365.73 L335.08,368.19 L335.58,370.63 L336.08,373.03 L336.58,375.39 L337.08,377.69 L337.57,379.92 L338.07,382.08 L338.57,384.16 L339.07,386.14 L339.56,388.01 L340.06,389.76 L340.56,391.39 L341.06,392.89 L341.56,394.23 L342.05,395.42 L342.55,396.44 L343.05,397.31 L343.55,398.15 L344.04,398.99 L344.54,399.81 L345.04,400.63 L345.54,401.43 L346.04,402.23 L346.53,403.01 L347.03,403.77 L347.53,404.52 L348.03,405.26 L348.52,405.97 L349.02,406.67 L349.52,407.35 L350.02,408.00 L350.52,408.63 L351.01,409.24 L351.51,409.82 L352.01,410.38 L352.51,410.91 L353.00,411.41 L353.50,411.88 L354.00,412.32 L354.50,412.72 L354.99,413.09 L355.49,413.43 L355.99,413.73 L356.49,413.99 L356.99,414.21 L357.48,414.40 L357.98,414.54 L358.48,414.64 L358.98,414.70 L359.47,414.71 L359.97,414.66 L360.47,414.55 L360.97,414.39 L361.47,414.17 L361.96,413.89 L362.46,413.56 L362.96,413.18 L363.46,412.75 L363.95,412.27 L364.45,411.75 L364.95,411.19 L365.45,410.58 L365.95,409.94 L366.44,409.25 L366.94,408.54 L367.44,407.78 L367.94,407.00 L368.43,406.19 L368.93,405.35 L369.43,404.48 L369.93,403.59 L370.42,402.68 L370.92,401.75 L371.42,400.80 L371.92,399.83 L372.42,398.85 L372.91,397.86 L373.41,396.86 L373.91,395.85 L374.41,394.83 L374.90,393.81 L375.40,392.79 L375.90,391.76 L376.40,390.65 L376.90,389.39 L377.39,387.98 L377.89,386.44 L378.39,384.77 L378.89,382.98 L379.38,381.08 L379.88,379.08 L380.38,377.00 L380.88,374.84 L381.38,372.61 L381.87,370.32 L382.37,367.98 L382.87,365.61 L383.37,363.20 L383.86,360.78 L384.36,358.34 L384.86,355.90 L385.36,353.47 L385.85,351.06 L386.35,348.68 L386.85,346.34 L387.35,344.05 L387.85,341.81 L388.34,339.65 L388.84,337.56 L389.34,335.55 L389.84,333.65 L390.33,331.85 L390.83,330.16 L391.33,328.60 L391.83,327.18 L392.33,325.91 L392.82,324.74 L393.32,323.57 L393.82,322.39 L394.32,321.22 L394.81,320.05 L395.31,318.88 L395.81,317.71 L396.31,316.56 L396.81,315.42 L397.30,314.29 L397.80,313.18 L398.30,312.09 L398.80,311.03 L399.29,309.98 L399.79,308.97 L400.29,307.98 L400.79,307.03 L401.28,306.11 L401.78,305.23 L402.28,304.39 L402.78,303.60 L403.28,302.85 L403.77,302.15 L404.27,301.49 L404.77,300.90 L405.27,300.35 L405.76,299.87 L406.26,299.45 L406.76,299.09 L407.26,298.80 L407.76,298.58 L408.25,298.43 L408.75,298.35 L409.25,298.35 L409.75,298.44 L410.24,298.63 L410.74,298.90 L411.24,299.25 L411.74,299.68 L412.24,300.19 L412.73,300.77 L413.23,301.42 L413.73,302.14 L414.23,302.92 L414.72,303.76 L415.22,304.66 L415.72,305.61 L416.22,306.61 L416.72,307.65 L417.21,308.74 L417.71,309.87 L418.21,311.03 L418.71,312.23 L419.20,313.45 L419.70,314.70 L420.20,315.98 L420.70,317.27 L421.19,318.58 L421.69,319.90 L422.19,321.23 L422.69,322.57 L423.19,323.91 L423.68,325.25 L424.18,326.58 L424.68,327.91 L425.18,329.22 L425.67,330.53 L426.17,331.94 L426.67,333.49 L427.17,335.18 L427.67,336.98 L428.16,338.90 L428.66,340.92 L429.16,343.03 L429.66,345.23 L430.15,347.49 L430.65,349.82 L431.15,352.19 L431.65,354.61 L432.15,357.06 L432.64,359.53 L433.14,362.01 L433.64,364.49 L434.14,366.96 L434.63,369.41 L435.13,371.83 L435.63,374.21 L436.13,376.54 L436.62,378.81 L437.12,381.01 L437.62,383.13 L438.12,385.16 L438.62,387.09 L439.11,388.90 L439.61,390.59 L440.11,392.16 L440.61,393.58 L441.10,394.85 L441.60,395.95 L442.10,396.89 L442.60,397.73 L443.10,398.57 L443.59,399.40 L444.09,400.22 L444.59,401.03 L445.09,401.83 L445.58,402.62 L446.08,403.39 L446.58,404.15 L447.08,404.89 L447.58,405.62 L448.07,406.32 L448.57,407.01 L449.07,407.68 L449.57,408.32 L450.06,408.94 L450.56,409.54 L451.06,410.11 L451.56,410.65 L452.05,411.16 L452.55,411.65 L453.05,412.10 L453.55,412.52 L454.05,412.91 L454.54,413.27 L455.04,413.58 L455.54,413.86 L456.04,414.11 L456.53,414.31 L457.03,414.47 L457.53,414.60 L458.03,414.67 L458.53,414.71 L459.02,414.69 L459.52,414.62 L460.02,414.48 L460.52,414.28 L461.01,414.03 L461.51,413.73 L462.01,413.38 L462.51,412.97 L463.01,412.52 L463.50,412.02 L464.00,411.47 L464.50,410.89 L465.00,410.26 L465.49,409.60 L465.99,408.90 L466.49,408.16 L466.99,407.40 L467.48,406.60 L467.98,405.77 L468.48,404.92 L468.98,404.04 L469.48,403.14 L469.97,402.22 L470.47,401.28 L470.97,400.32 L471.47,399.35 L471.96,398.36 L472.46,397.36 L472.96,396.36 L473.46,395.34 L473.96,394.32 L474.45,393.30 L474.95,392.27 L475.45,391.23 L475.95,390.04 L476.44,388.70 L476.94,387.23 L477.44,385.62 L477.94,383.88 L478.44,382.04 L478.93,380.09 L479.43,378.05 L479.93,375.93 L480.43,373.73 L480.92,371.47 L481.42,369.16 L481.92,366.80 L482.42,364.41 L482.92,361.99 L483.41,359.56 L483.91,357.12 L484.41,354.69 L484.91,352.27 L485.40,349.87 L485.90,347.51 L486.40,345.19 L486.90,342.92 L487.39,340.72 L487.89,338.59 L488.39,336.54 L488.89,334.59 L489.39,332.73 L489.88,330.99 L490.38,329.37 L490.88,327.88 L491.38,326.52 L491.87,325.32 L492.37,324.16 L492.87,323.01 L493.37,321.87 L493.87,320.74 L494.36,319.63 L494.86,318.52 L495.36,317.43 L495.86,316.35 L496.35,315.29 L496.85,314.25 L497.35,313.23 L497.85,312.23 L498.35,311.25 L498.84,310.29 L499.34,309.36 L499.84,308.46 L500.34,307.58 L500.83,306.73 L501.33,305.91 L501.83,305.13 L502.33,304.37 L502.82,303.65 L503.32,302.96 L503.82,302.32 L504.32,301.70 L504.82,301.13 L505.31,300.60 L505.81,300.11 L506.31,299.67 L506.81,299.26 L507.30,298.91 L507.80,298.60 L508.30,298.34" stroke="#dce23a" stroke-width="1.35" fill="none" stroke-linejoin="round"/>
<circle cx="309.70" cy="298.34" r="2.35" fill="#dce23a"/>
<circle cx="326.25" cy="330.20" r="2.35" fill="#dce23a"/>
<circle cx="342.80" cy="396.89" r="2.35" fill="#dce23a"/>
<circle cx="359.35" cy="414.71" r="2.35" fill="#dce23a"/>
<circle cx="375.90" cy="391.76" r="2.35" fill="#dce23a"/>
<circle cx="392.45" cy="325.61" r="2.35" fill="#dce23a"/>
<circle cx="409.00" cy="298.34" r="2.35" fill="#dce23a"/>
<circle cx="425.55" cy="330.20" r="2.35" fill="#dce23a"/>
<circle cx="442.10" cy="396.89" r="2.35" fill="#dce23a"/>
<circle cx="458.65" cy="414.71" r="2.35" fill="#dce23a"/>
<circle cx="475.20" cy="391.76" r="2.35" fill="#dce23a"/>
<circle cx="491.75" cy="325.61" r="2.35" fill="#dce23a"/>
<circle cx="508.30" cy="298.34" r="2.35" fill="#dce23a"/>
<path d="M309.70,258.38 L310.20,258.77 L310.70,259.20 L311.19,259.68 L311.69,260.20 L312.19,260.76 L312.69,261.37 L313.18,262.02 L313.68,262.71 L314.18,263.44 L314.68,264.21 L315.18,265.01 L315.67,265.84 L316.17,266.71 L316.67,267.62 L317.17,268.55 L317.66,269.52 L318.16,270.51 L318.66,271.53 L319.16,272.58 L319.65,273.65 L320.15,274.75 L320.65,275.87 L321.15,277.01 L321.65,278.18 L322.14,279.36 L322.64,280.56 L323.14,281.78 L323.64,283.01 L324.13,284.26 L324.63,285.52 L325.13,286.80 L325.63,288.08 L326.13,289.37 L326.62,290.72 L327.12,292.23 L327.62,293.89 L328.12,295.69 L328.61,297.62 L329.11,299.67 L329.61,301.82 L330.11,304.07 L330.61,306.41 L331.10,308.82 L331.60,311.30 L332.10,313.83 L332.60,316.39 L333.09,318.99 L333.59,321.61 L334.09,324.23 L334.59,326.85 L335.08,329.45 L335.58,332.03 L336.08,334.58 L336.58,337.07 L337.08,339.50 L337.57,341.87 L338.07,344.15 L338.57,346.34 L339.07,348.42 L339.56,350.39 L340.06,352.24 L340.56,353.95 L341.06,355.50 L341.56,356.90 L342.05,358.13 L342.55,359.18 L343.05,360.06 L343.55,360.90 L344.04,361.74 L344.54,362.57 L345.04,363.39 L345.54,364.20 L346.04,365.00 L346.53,365.78 L347.03,366.55 L347.53,367.30 L348.03,368.04 L348.52,368.75 L349.02,369.45 L349.52,370.13 L350.02,370.78 L350.52,371.41 L351.01,372.02 L351.51,372.60 L352.01,373.15 L352.51,373.68 L353.00,374.17 L353.50,374.64 L354.00,375.08 L354.50,375.48 L354.99,375.85 L355.49,376.18 L355.99,376.48 L356.49,376.74 L356.99,376.96 L357.48,377.14 L357.98,377.28 L358.48,377.38 L358.98,377.44 L359.47,377.45 L359.97,377.42 L360.47,377.34 L360.97,377.22 L361.47,377.06 L361.96,376.86 L362.46,376.62 L362.96,376.34 L363.46,376.02 L363.95,375.67 L364.45,375.29 L364.95,374.87 L365.45,374.42 L365.95,373.94 L366.44,373.43 L366.94,372.89 L367.44,372.32 L367.94,371.73 L368.43,371.11 L368.93,370.47 L369.43,369.81 L369.93,369.12 L370.42,368.41 L370.92,367.69 L371.42,366.95 L371.92,366.18 L372.42,365.41 L372.91,364.62 L373.41,363.81 L373.91,363.00 L374.41,362.17 L374.90,361.33 L375.40,360.48 L375.90,359.63 L376.40,358.67 L376.90,357.52 L377.39,356.18 L377.89,354.67 L378.39,352.99 L378.89,351.17 L379.38,349.22 L379.88,347.14 L380.38,344.94 L380.88,342.64 L381.38,340.25 L381.87,337.79 L382.37,335.26 L382.87,332.67 L383.37,330.04 L383.86,327.38 L384.36,324.69 L384.86,322.00 L385.36,319.32 L385.85,316.65 L386.35,314.00 L386.85,311.40 L387.35,308.85 L387.85,306.35 L388.34,303.94 L388.84,301.60 L389.34,299.37 L389.84,297.25 L390.33,295.24 L390.83,293.37 L391.33,291.65 L391.83,290.08 L392.33,288.67 L392.82,287.40 L393.32,286.12 L393.82,284.83 L394.32,283.55 L394.81,282.26 L395.31,280.98 L395.81,279.70 L396.31,278.44 L396.81,277.19 L397.30,275.95 L397.80,274.73 L398.30,273.53 L398.80,272.36 L399.29,271.21 L399.79,270.09 L400.29,269.01 L400.79,267.96 L401.28,266.95 L401.78,265.98 L402.28,265.06 L402.78,264.18 L403.28,263.35 L403.77,262.58 L404.27,261.86 L404.77,261.20 L405.27,260.60 L405.76,260.07 L406.26,259.61 L406.76,259.21 L407.26,258.89 L407.76,258.64 L408.25,258.48 L408.75,258.39 L409.25,258.39 L409.75,258.48 L410.24,258.66 L410.74,258.92 L411.24,259.26 L411.74,259.68 L412.24,260.17 L412.73,260.74 L413.23,261.37 L413.73,262.07 L414.23,262.83 L414.72,263.64 L415.22,264.52 L415.72,265.44 L416.22,266.41 L416.72,267.43 L417.21,268.50 L417.71,269.60 L418.21,270.74 L418.71,271.91 L419.20,273.11 L419.70,274.34 L420.20,275.59 L420.70,276.86 L421.19,278.15 L421.69,279.46 L422.19,280.77 L422.69,282.10 L423.19,283.42 L423.68,284.75 L424.18,286.08 L424.68,287.41 L425.18,288.72 L425.67,290.03 L426.17,291.46 L426.67,293.04 L427.17,294.77 L427.67,296.64 L428.16,298.63 L428.66,300.73 L429.16,302.94 L429.66,305.23 L430.15,307.61 L430.65,310.05 L431.15,312.56 L431.65,315.10 L432.15,317.69 L432.64,320.30 L433.14,322.92 L433.64,325.54 L434.14,328.15 L434.63,330.75 L435.13,333.31 L435.63,335.83 L436.13,338.29 L436.62,340.69 L437.12,343.02 L437.62,345.26 L438.12,347.39 L438.62,349.42 L439.11,351.33 L439.61,353.11 L440.11,354.74 L440.61,356.22 L441.10,357.54 L441.60,358.68 L442.10,359.63 L442.60,360.48 L443.10,361.32 L443.59,362.16 L444.09,362.99 L444.59,363.80 L445.09,364.60 L445.58,365.39 L446.08,366.17 L446.58,366.93 L447.08,367.67 L447.58,368.40 L448.07,369.10 L448.57,369.79 L449.07,370.46 L449.57,371.10 L450.06,371.72 L450.56,372.31 L451.06,372.88 L451.56,373.42 L452.05,373.93 L452.55,374.41 L453.05,374.86 L453.55,375.28 L454.05,375.67 L454.54,376.02 L455.04,376.33 L455.54,376.61 L456.04,376.85 L456.53,377.06 L457.03,377.22 L457.53,377.34 L458.03,377.41 L458.53,377.45 L459.02,377.44 L459.52,377.38 L460.02,377.28 L460.52,377.14 L461.01,376.96 L461.51,376.74 L462.01,376.48 L462.51,376.18 L463.01,375.85 L463.50,375.48 L464.00,375.08 L464.50,374.65 L465.00,374.18 L465.49,373.69 L465.99,373.16 L466.49,372.61 L466.99,372.03 L467.48,371.42 L467.98,370.79 L468.48,370.14 L468.98,369.47 L469.48,368.77 L469.97,368.05 L470.47,367.32 L470.97,366.57 L471.47,365.80 L471.96,365.01 L472.46,364.22 L472.96,363.41 L473.46,362.58 L473.96,361.75 L474.45,360.91 L474.95,360.06 L475.45,359.18 L475.95,358.12 L476.44,356.87 L476.94,355.44 L477.44,353.85 L477.94,352.10 L478.44,350.21 L478.93,348.19 L479.43,346.05 L479.93,343.80 L480.43,341.46 L480.92,339.03 L481.42,336.53 L481.92,333.97 L482.42,331.36 L482.92,328.71 L483.41,326.04 L483.91,323.35 L484.41,320.66 L484.91,317.98 L485.40,315.32 L485.90,312.70 L486.40,310.12 L486.90,307.59 L487.39,305.14 L487.89,302.76 L488.39,300.47 L488.89,298.29 L489.39,296.23 L489.88,294.29 L490.38,292.49 L490.88,290.84 L491.38,289.35 L491.87,288.03 L492.37,286.77 L492.87,285.51 L493.37,284.27 L493.87,283.04 L494.36,281.82 L494.86,280.61 L495.36,279.42 L495.86,278.24 L496.35,277.09 L496.85,275.95 L497.35,274.83 L497.85,273.74 L498.35,272.67 L498.84,271.63 L499.34,270.61 L499.84,269.62 L500.34,268.66 L500.83,267.73 L501.33,266.83 L501.83,265.96 L502.33,265.13 L502.82,264.34 L503.32,263.58 L503.82,262.86 L504.32,262.19 L504.82,261.55 L505.31,260.96 L505.81,260.41 L506.31,259.91 L506.81,259.45 L507.30,259.04 L507.80,258.69 L508.30,258.38" stroke="#68b85a" stroke-width="1.35" fill="none" stroke-linejoin="round"/>
<polygon points="309.70,260.96 307.46,257.09 311.94,257.09" fill="#68b85a"/>
<polygon points="326.25,292.28 324.01,288.41 328.49,288.41" fill="#68b85a"/>
<polygon points="342.80,362.21 340.56,358.34 345.04,358.34" fill="#68b85a"/>
<polygon points="359.35,380.04 357.11,376.16 361.59,376.16" fill="#68b85a"/>
<polygon points="375.90,362.21 373.66,358.34 378.14,358.34" fill="#68b85a"/>
<polygon points="392.45,290.94 390.21,287.06 394.69,287.06" fill="#68b85a"/>
<polygon points="409.00,260.96 406.76,257.09 411.24,257.09" fill="#68b85a"/>
<polygon points="425.55,292.28 423.31,288.41 427.79,288.41" fill="#68b85a"/>
<polygon points="442.10,362.21 439.86,358.34 444.34,358.34" fill="#68b85a"/>
<polygon points="458.65,380.04 456.41,376.16 460.89,376.16" fill="#68b85a"/>
<polygon points="475.20,362.21 472.96,358.34 477.44,358.34" fill="#68b85a"/>
<polygon points="491.75,290.94 489.51,287.06 493.99,287.06" fill="#68b85a"/>
<polygon points="508.30,260.96 506.06,257.09 510.54,257.09" fill="#68b85a"/>
<path d="M309.70,255.14 L310.20,255.60 L310.70,256.11 L311.19,256.66 L311.69,257.26 L312.19,257.89 L312.69,258.56 L313.18,259.27 L313.68,260.02 L314.18,260.81 L314.68,261.62 L315.18,262.48 L315.67,263.36 L316.17,264.28 L316.67,265.23 L317.17,266.21 L317.66,267.22 L318.16,268.26 L318.66,269.32 L319.16,270.41 L319.65,271.52 L320.15,272.66 L320.65,273.82 L321.15,275.00 L321.65,276.20 L322.14,277.42 L322.64,278.66 L323.14,279.91 L323.64,281.18 L324.13,282.47 L324.63,283.77 L325.13,285.08 L325.63,286.41 L326.13,287.74 L326.62,289.13 L327.12,290.67 L327.62,292.35 L328.12,294.17 L328.61,296.11 L329.11,298.16 L329.61,300.32 L330.11,302.56 L330.61,304.89 L331.10,307.28 L331.60,309.73 L332.10,312.24 L332.60,314.77 L333.09,317.34 L333.59,319.92 L334.09,322.51 L334.59,325.09 L335.08,327.66 L335.58,330.20 L336.08,332.71 L336.58,335.16 L337.08,337.56 L337.57,339.89 L338.07,342.13 L338.57,344.29 L339.07,346.35 L339.56,348.29 L340.06,350.12 L340.56,351.80 L341.06,353.35 L341.56,354.74 L342.05,355.97 L342.55,357.01 L343.05,357.90 L343.55,358.76 L344.04,359.61 L344.54,360.45 L345.04,361.28 L345.54,362.10 L346.04,362.90 L346.53,363.70 L347.03,364.48 L347.53,365.24 L348.03,365.99 L348.52,366.71 L349.02,367.42 L349.52,368.11 L350.02,368.77 L350.52,369.41 L351.01,370.03 L351.51,370.62 L352.01,371.18 L352.51,371.72 L353.00,372.22 L353.50,372.70 L354.00,373.14 L354.50,373.55 L354.99,373.93 L355.49,374.27 L355.99,374.57 L356.49,374.83 L356.99,375.06 L357.48,375.25 L357.98,375.39 L358.48,375.49 L358.98,375.55 L359.47,375.56 L359.97,375.52 L360.47,375.44 L360.97,375.31 L361.47,375.14 L361.96,374.93 L362.46,374.68 L362.96,374.38 L363.46,374.05 L363.95,373.68 L364.45,373.28 L364.95,372.84 L365.45,372.36 L365.95,371.86 L366.44,371.32 L366.94,370.75 L367.44,370.16 L367.94,369.54 L368.43,368.89 L368.93,368.22 L369.43,367.52 L369.93,366.80 L370.42,366.06 L370.92,365.31 L371.42,364.53 L371.92,363.74 L372.42,362.93 L372.91,362.10 L373.41,361.27 L373.91,360.42 L374.41,359.56 L374.90,358.69 L375.40,357.81 L375.90,356.93 L376.40,355.95 L376.90,354.78 L377.39,353.43 L377.89,351.92 L378.39,350.26 L378.89,348.46 L379.38,346.53 L379.88,344.47 L380.38,342.31 L380.88,340.05 L381.38,337.71 L381.87,335.28 L382.37,332.80 L382.87,330.26 L383.37,327.68 L383.86,325.07 L384.36,322.44 L384.86,319.81 L385.36,317.17 L385.85,314.55 L386.35,311.95 L386.85,309.39 L387.35,306.88 L387.85,304.43 L388.34,302.04 L388.84,299.74 L389.34,297.52 L389.84,295.41 L390.33,293.42 L390.83,291.54 L391.33,289.81 L391.83,288.22 L392.33,286.79 L392.82,285.48 L393.32,284.16 L393.82,282.83 L394.32,281.50 L394.81,280.17 L395.31,278.84 L395.81,277.52 L396.31,276.20 L396.81,274.90 L397.30,273.61 L397.80,272.34 L398.30,271.08 L398.80,269.85 L399.29,268.65 L399.79,267.48 L400.29,266.34 L400.79,265.24 L401.28,264.18 L401.78,263.16 L402.28,262.19 L402.78,261.27 L403.28,260.39 L403.77,259.58 L404.27,258.82 L404.77,258.12 L405.27,257.49 L405.76,256.93 L406.26,256.44 L406.76,256.02 L407.26,255.68 L407.76,255.42 L408.25,255.24 L408.75,255.15 L409.25,255.15 L409.75,255.25 L410.24,255.44 L410.74,255.72 L411.24,256.08 L411.74,256.53 L412.24,257.05 L412.73,257.65 L413.23,258.32 L413.73,259.07 L414.23,259.87 L414.72,260.74 L415.22,261.67 L415.72,262.65 L416.22,263.68 L416.72,264.76 L417.21,265.88 L417.71,267.05 L418.21,268.25 L418.71,269.49 L419.20,270.75 L419.70,272.05 L420.20,273.36 L420.70,274.70 L421.19,276.05 L421.69,277.42 L422.19,278.80 L422.69,280.18 L423.19,281.57 L423.68,282.95 L424.18,284.33 L424.68,285.71 L425.18,287.07 L425.67,288.42 L426.17,289.88 L426.67,291.50 L427.17,293.25 L427.67,295.13 L428.16,297.12 L428.66,299.23 L429.16,301.43 L429.66,303.71 L430.15,306.07 L430.65,308.50 L431.15,310.98 L431.65,313.50 L432.15,316.05 L432.64,318.63 L433.14,321.22 L433.64,323.80 L434.14,326.38 L434.63,328.94 L435.13,331.46 L435.63,333.94 L436.13,336.37 L436.62,338.73 L437.12,341.02 L437.62,343.23 L438.12,345.33 L438.62,347.34 L439.11,349.22 L439.61,350.98 L440.11,352.60 L440.61,354.06 L441.10,355.37 L441.60,356.51 L442.10,357.47 L442.60,358.33 L443.10,359.18 L443.59,360.03 L444.09,360.86 L444.59,361.69 L445.09,362.50 L445.58,363.30 L446.08,364.09 L446.58,364.86 L447.08,365.61 L447.58,366.35 L448.07,367.07 L448.57,367.77 L449.07,368.44 L449.57,369.09 L450.06,369.72 L450.56,370.33 L451.06,370.90 L451.56,371.45 L452.05,371.97 L452.55,372.46 L453.05,372.92 L453.55,373.35 L454.05,373.74 L454.54,374.10 L455.04,374.42 L455.54,374.71 L456.04,374.95 L456.53,375.16 L457.03,375.32 L457.53,375.45 L458.03,375.52 L458.53,375.56 L459.02,375.55 L459.52,375.49 L460.02,375.38 L460.52,375.24 L461.01,375.04 L461.51,374.81 L462.01,374.54 L462.51,374.22 L463.01,373.87 L463.50,373.48 L464.00,373.06 L464.50,372.60 L465.00,372.11 L465.49,371.59 L465.99,371.04 L466.49,370.46 L466.99,369.85 L467.48,369.22 L467.98,368.56 L468.48,367.87 L468.98,367.16 L469.48,366.44 L469.97,365.69 L470.47,364.92 L470.97,364.13 L471.47,363.33 L471.96,362.52 L472.46,361.69 L472.96,360.84 L473.46,359.99 L473.96,359.13 L474.45,358.25 L474.95,357.37 L475.45,356.46 L475.95,355.38 L476.44,354.13 L476.94,352.70 L477.44,351.11 L477.94,349.38 L478.44,347.51 L478.93,345.51 L479.43,343.40 L479.93,341.19 L480.43,338.89 L480.92,336.50 L481.42,334.05 L481.92,331.54 L482.42,328.98 L482.92,326.38 L483.41,323.76 L483.91,321.13 L484.41,318.49 L484.91,315.86 L485.40,313.25 L485.90,310.67 L486.40,308.13 L486.90,305.65 L487.39,303.22 L487.89,300.88 L488.39,298.62 L488.89,296.45 L489.39,294.40 L489.88,292.46 L490.38,290.66 L490.88,289.00 L491.38,287.49 L491.87,286.13 L492.37,284.84 L492.87,283.55 L493.37,282.27 L493.87,281.01 L494.36,279.75 L494.86,278.52 L495.36,277.30 L495.86,276.09 L496.35,274.91 L496.85,273.74 L497.35,272.60 L497.85,271.47 L498.35,270.37 L498.84,269.30 L499.34,268.25 L499.84,267.22 L500.34,266.23 L500.83,265.26 L501.33,264.33 L501.83,263.43 L502.33,262.56 L502.82,261.72 L503.32,260.92 L503.82,260.16 L504.32,259.43 L504.82,258.74 L505.31,258.10 L505.81,257.49 L506.31,256.93 L506.81,256.41 L507.30,255.94 L507.80,255.52 L508.30,255.14" stroke="#21967f" stroke-width="1.35" fill="none" stroke-linejoin="round"/>
<polygon points="309.70,252.55 311.94,256.43 307.46,256.43" fill="#21967f"/>
<polygon points="326.25,285.50 328.49,289.37 324.01,289.37" fill="#21967f"/>
<polygon points="342.80,354.89 345.04,358.76 340.56,358.76" fill="#21967f"/>
<polygon points="359.35,372.98 361.59,376.85 357.11,376.85" fill="#21967f"/>
<polygon points="375.90,354.35 378.14,358.22 373.66,358.22" fill="#21967f"/>
<polygon points="392.45,283.88 394.69,287.75 390.21,287.75" fill="#21967f"/>
<polygon points="409.00,252.55 411.24,256.43 406.76,256.43" fill="#21967f"/>
<polygon points="425.55,285.50 427.79,289.37 423.31,289.37" fill="#21967f"/>
<polygon points="442.10,354.89 444.34,358.76 439.86,358.76" fill="#21967f"/>
<polygon points="458.65,372.98 460.89,376.85 456.41,376.85" fill="#21967f"/>
<polygon points="475.20,354.35 477.44,358.22 472.96,358.22" fill="#21967f"/>
<polygon points="491.75,283.88 493.99,287.75 489.51,287.75" fill="#21967f"/>
<polygon points="508.30,252.55 510.54,256.43 506.06,256.43" fill="#21967f"/>
<path d="M309.70,253.79 L310.20,254.29 L310.70,254.82 L311.19,255.40 L311.69,256.02 L312.19,256.68 L312.69,257.38 L313.18,258.11 L313.68,258.88 L314.18,259.69 L314.68,260.53 L315.18,261.40 L315.67,262.30 L316.17,263.24 L316.67,264.20 L317.17,265.20 L317.66,266.22 L318.16,267.27 L318.66,268.35 L319.16,269.45 L319.65,270.57 L320.15,271.72 L320.65,272.89 L321.15,274.08 L321.65,275.29 L322.14,276.52 L322.64,277.77 L323.14,279.04 L323.64,280.32 L324.13,281.61 L324.63,282.92 L325.13,284.25 L325.63,285.58 L326.13,286.93 L326.62,288.33 L327.12,289.88 L327.62,291.56 L328.12,293.38 L328.61,295.31 L329.11,297.36 L329.61,299.50 L330.11,301.73 L330.61,304.04 L331.10,306.42 L331.60,308.85 L332.10,311.33 L332.60,313.85 L333.09,316.39 L333.59,318.95 L334.09,321.51 L334.59,324.06 L335.08,326.60 L335.58,329.12 L336.08,331.59 L336.58,334.02 L337.08,336.39 L337.57,338.70 L338.07,340.92 L338.57,343.06 L339.07,345.09 L339.56,347.02 L340.06,348.82 L340.56,350.49 L341.06,352.02 L341.56,353.40 L342.05,354.62 L342.55,355.67 L343.05,356.55 L343.55,357.41 L344.04,358.25 L344.54,359.09 L345.04,359.92 L345.54,360.74 L346.04,361.55 L346.53,362.34 L347.03,363.12 L347.53,363.88 L348.03,364.63 L348.52,365.36 L349.02,366.06 L349.52,366.75 L350.02,367.41 L350.52,368.05 L351.01,368.67 L351.51,369.26 L352.01,369.83 L352.51,370.36 L353.00,370.87 L353.50,371.34 L354.00,371.79 L354.50,372.20 L354.99,372.57 L355.49,372.91 L355.99,373.22 L356.49,373.48 L356.99,373.71 L357.48,373.89 L357.98,374.04 L358.48,374.14 L358.98,374.20 L359.47,374.21 L359.97,374.17 L360.47,374.09 L360.97,373.96 L361.47,373.79 L361.96,373.57 L362.46,373.31 L362.96,373.01 L363.46,372.67 L363.95,372.30 L364.45,371.89 L364.95,371.44 L365.45,370.96 L365.95,370.44 L366.44,369.89 L366.94,369.32 L367.44,368.71 L367.94,368.08 L368.43,367.42 L368.93,366.74 L369.43,366.03 L369.93,365.30 L370.42,364.56 L370.92,363.79 L371.42,363.00 L371.92,362.19 L372.42,361.37 L372.91,360.54 L373.41,359.69 L373.91,358.84 L374.41,357.97 L374.90,357.09 L375.40,356.20 L375.90,355.31 L376.40,354.32 L376.90,353.15 L377.39,351.80 L377.89,350.30 L378.39,348.65 L378.89,346.86 L379.38,344.94 L379.88,342.90 L380.38,340.75 L380.88,338.52 L381.38,336.19 L381.87,333.80 L382.37,331.34 L382.87,328.82 L383.37,326.27 L383.86,323.69 L384.36,321.09 L384.86,318.48 L385.36,315.87 L385.85,313.28 L386.35,310.71 L386.85,308.17 L387.35,305.68 L387.85,303.25 L388.34,300.89 L388.84,298.60 L389.34,296.40 L389.84,294.31 L390.33,292.32 L390.83,290.46 L391.33,288.73 L391.83,287.14 L392.33,285.71 L392.82,284.39 L393.32,283.07 L393.82,281.74 L394.32,280.40 L394.81,279.06 L395.31,277.72 L395.81,276.39 L396.31,275.07 L396.81,273.75 L397.30,272.45 L397.80,271.17 L398.30,269.90 L398.80,268.66 L399.29,267.45 L399.79,266.27 L400.29,265.12 L400.79,264.01 L401.28,262.94 L401.78,261.91 L402.28,260.92 L402.78,259.99 L403.28,259.11 L403.77,258.28 L404.27,257.52 L404.77,256.81 L405.27,256.17 L405.76,255.60 L406.26,255.10 L406.76,254.68 L407.26,254.33 L407.76,254.07 L408.25,253.89 L408.75,253.80 L409.25,253.80 L409.75,253.90 L410.24,254.09 L410.74,254.38 L411.24,254.75 L411.74,255.21 L412.24,255.74 L412.73,256.36 L413.23,257.04 L413.73,257.80 L414.23,258.62 L414.72,259.51 L415.22,260.45 L415.72,261.45 L416.22,262.51 L416.72,263.61 L417.21,264.75 L417.71,265.94 L418.21,267.16 L418.71,268.42 L419.20,269.71 L419.70,271.03 L420.20,272.36 L420.70,273.72 L421.19,275.10 L421.69,276.49 L422.19,277.88 L422.69,279.28 L423.19,280.69 L423.68,282.09 L424.18,283.49 L424.68,284.87 L425.18,286.25 L425.67,287.61 L426.17,289.08 L426.67,290.70 L427.17,292.45 L427.67,294.33 L428.16,296.32 L428.66,298.42 L429.16,300.60 L429.66,302.88 L430.15,305.22 L430.65,307.63 L431.15,310.08 L431.65,312.58 L432.15,315.11 L432.64,317.67 L433.14,320.23 L433.64,322.79 L434.14,325.34 L434.63,327.86 L435.13,330.36 L435.63,332.82 L436.13,335.22 L436.62,337.55 L437.12,339.82 L437.62,342.00 L438.12,344.09 L438.62,346.07 L439.11,347.93 L439.61,349.67 L440.11,351.28 L440.61,352.73 L441.10,354.03 L441.60,355.17 L442.10,356.12 L442.60,356.98 L443.10,357.83 L443.59,358.67 L444.09,359.51 L444.59,360.33 L445.09,361.15 L445.58,361.95 L446.08,362.73 L446.58,363.50 L447.08,364.26 L447.58,364.99 L448.07,365.71 L448.57,366.41 L449.07,367.08 L449.57,367.74 L450.06,368.37 L450.56,368.97 L451.06,369.55 L451.56,370.10 L452.05,370.62 L452.55,371.11 L453.05,371.57 L453.55,372.00 L454.05,372.39 L454.54,372.75 L455.04,373.07 L455.54,373.35 L456.04,373.60 L456.53,373.81 L457.03,373.97 L457.53,374.10 L458.03,374.17 L458.53,374.21 L459.02,374.20 L459.52,374.14 L460.02,374.03 L460.52,373.88 L461.01,373.68 L461.51,373.45 L462.01,373.17 L462.51,372.85 L463.01,372.49 L463.50,372.10 L464.00,371.67 L464.50,371.20 L465.00,370.70 L465.49,370.17 L465.99,369.61 L466.49,369.02 L466.99,368.40 L467.48,367.76 L467.98,367.08 L468.48,366.39 L468.98,365.67 L469.48,364.93 L469.97,364.17 L470.47,363.39 L470.97,362.60 L471.47,361.79 L471.96,360.96 L472.46,360.12 L472.96,359.27 L473.46,358.40 L473.96,357.53 L474.45,356.65 L474.95,355.76 L475.45,354.84 L475.95,353.76 L476.44,352.50 L476.94,351.07 L477.44,349.49 L477.94,347.77 L478.44,345.91 L478.93,343.93 L479.43,341.84 L479.93,339.65 L480.43,337.36 L480.92,335.00 L481.42,332.57 L481.92,330.09 L482.42,327.55 L482.92,324.98 L483.41,322.39 L483.91,319.78 L484.41,317.17 L484.91,314.57 L485.40,311.99 L485.90,309.43 L486.40,306.92 L486.90,304.46 L487.39,302.06 L487.89,299.73 L488.39,297.49 L488.89,295.34 L489.39,293.30 L489.88,291.38 L490.38,289.58 L490.88,287.92 L491.38,286.41 L491.87,285.05 L492.37,283.75 L492.87,282.46 L493.37,281.18 L493.87,279.91 L494.36,278.65 L494.86,277.41 L495.36,276.19 L495.86,274.98 L496.35,273.79 L496.85,272.62 L497.35,271.47 L497.85,270.34 L498.35,269.24 L498.84,268.16 L499.34,267.10 L499.84,266.08 L500.34,265.08 L500.83,264.10 L501.33,263.16 L501.83,262.25 L502.33,261.37 L502.82,260.53 L503.32,259.72 L503.82,258.94 L504.32,258.21 L504.82,257.51 L505.31,256.85 L505.81,256.23 L506.31,255.65 L506.81,255.12 L507.30,254.63 L507.80,254.19 L508.30,253.79" stroke="#236e7e" stroke-width="1.35" fill="none" stroke-linejoin="round"/>
<polygon points="312.28,253.79 308.41,256.03 308.41,251.55" fill="#236e7e"/>
<polygon points="328.83,287.27 324.96,289.51 324.96,285.03" fill="#236e7e"/>
<polygon points="345.38,356.12 341.51,358.36 341.51,353.88" fill="#236e7e"/>
<polygon points="361.94,374.21 358.06,376.45 358.06,371.97" fill="#236e7e"/>
<polygon points="378.48,355.31 374.61,357.55 374.61,353.07" fill="#236e7e"/>
<polygon points="395.03,285.38 391.16,287.62 391.16,283.14" fill="#236e7e"/>
<polygon points="411.58,253.79 407.71,256.03 407.71,251.55" fill="#236e7e"/>
<polygon points="428.13,287.27 424.26,289.51 424.26,285.03" fill="#236e7e"/>
<polygon points="444.69,356.12 440.81,358.36 440.81,353.88" fill="#236e7e"/>
<polygon points="461.23,374.21 457.36,376.45 457.36,371.97" fill="#236e7e"/>
<polygon points="477.78,355.31 473.91,357.55 473.91,353.07" fill="#236e7e"/>
<polygon points="494.33,285.38 490.46,287.62 490.46,283.14" fill="#236e7e"/>
<polygon points="510.88,253.79 507.01,256.03 507.01,251.55" fill="#236e7e"/>
<path d="M309.70,252.71 L310.20,253.22 L310.70,253.77 L311.19,254.36 L311.69,254.99 L312.19,255.66 L312.69,256.37 L313.18,257.11 L313.68,257.89 L314.18,258.70 L314.68,259.55 L315.18,260.43 L315.67,261.34 L316.17,262.29 L316.67,263.26 L317.17,264.26 L317.66,265.29 L318.16,266.35 L318.66,267.43 L319.16,268.54 L319.65,269.67 L320.15,270.82 L320.65,272.00 L321.15,273.20 L321.65,274.42 L322.14,275.65 L322.64,276.91 L323.14,278.18 L323.64,279.47 L324.13,280.77 L324.63,282.09 L325.13,283.42 L325.63,284.77 L326.13,286.12 L326.62,287.53 L327.12,289.08 L327.62,290.77 L328.12,292.59 L328.61,294.53 L329.11,296.58 L329.61,298.73 L330.11,300.97 L330.61,303.28 L331.10,305.66 L331.60,308.10 L332.10,310.58 L332.60,313.10 L333.09,315.65 L333.59,318.21 L334.09,320.77 L334.59,323.33 L335.08,325.87 L335.58,328.38 L336.08,330.86 L336.58,333.28 L337.08,335.65 L337.57,337.95 L338.07,340.17 L338.57,342.31 L339.07,344.34 L339.56,346.26 L340.06,348.05 L340.56,349.72 L341.06,351.25 L341.56,352.62 L342.05,353.83 L342.55,354.86 L343.05,355.74 L343.55,356.58 L344.04,357.42 L344.54,358.25 L345.04,359.07 L345.54,359.87 L346.04,360.67 L346.53,361.45 L347.03,362.22 L347.53,362.97 L348.03,363.70 L348.52,364.42 L349.02,365.12 L349.52,365.79 L350.02,366.45 L350.52,367.08 L351.01,367.68 L351.51,368.27 L352.01,368.82 L352.51,369.35 L353.00,369.85 L353.50,370.31 L354.00,370.75 L354.50,371.15 L354.99,371.52 L355.49,371.86 L355.99,372.15 L356.49,372.42 L356.99,372.64 L357.48,372.82 L357.98,372.96 L358.48,373.06 L358.98,373.12 L359.47,373.13 L359.97,373.09 L360.47,373.00 L360.97,372.87 L361.47,372.69 L361.96,372.47 L362.46,372.20 L362.96,371.89 L363.46,371.54 L363.95,371.15 L364.45,370.72 L364.95,370.26 L365.45,369.76 L365.95,369.23 L366.44,368.66 L366.94,368.07 L367.44,367.44 L367.94,366.79 L368.43,366.11 L368.93,365.41 L369.43,364.68 L369.93,363.93 L370.42,363.16 L370.92,362.37 L371.42,361.56 L371.92,360.74 L372.42,359.89 L372.91,359.04 L373.41,358.17 L373.91,357.29 L374.41,356.40 L374.90,355.50 L375.40,354.60 L375.90,353.69 L376.40,352.69 L376.90,351.51 L377.39,350.16 L377.89,348.66 L378.39,347.02 L378.89,345.24 L379.38,343.33 L379.88,341.32 L380.38,339.20 L380.88,336.99 L381.38,334.70 L381.87,332.34 L382.37,329.91 L382.87,327.44 L383.37,324.93 L383.86,322.39 L384.36,319.83 L384.86,317.26 L385.36,314.69 L385.85,312.14 L386.35,309.61 L386.85,307.12 L387.35,304.66 L387.85,302.27 L388.34,299.94 L388.84,297.68 L389.34,295.51 L389.84,293.44 L390.33,291.48 L390.83,289.63 L391.33,287.91 L391.83,286.33 L392.33,284.90 L392.82,283.58 L393.32,282.25 L393.82,280.92 L394.32,279.57 L394.81,278.23 L395.31,276.88 L395.81,275.54 L396.31,274.20 L396.81,272.88 L397.30,271.57 L397.80,270.28 L398.30,269.00 L398.80,267.75 L399.29,266.53 L399.79,265.33 L400.29,264.17 L400.79,263.05 L401.28,261.97 L401.78,260.92 L402.28,259.93 L402.78,258.99 L403.28,258.09 L403.77,257.26 L404.27,256.48 L404.77,255.77 L405.27,255.12 L405.76,254.55 L406.26,254.04 L406.76,253.61 L407.26,253.26 L407.76,253.00 L408.25,252.81 L408.75,252.72 L409.25,252.72 L409.75,252.82 L410.24,253.02 L410.74,253.30 L411.24,253.68 L411.74,254.14 L412.24,254.68 L412.73,255.30 L413.23,256.00 L413.73,256.76 L414.23,257.59 L414.72,258.48 L415.22,259.44 L415.72,260.45 L416.22,261.51 L416.72,262.62 L417.21,263.78 L417.71,264.97 L418.21,266.21 L418.71,267.48 L419.20,268.78 L419.70,270.10 L420.20,271.45 L420.70,272.82 L421.19,274.21 L421.69,275.60 L422.19,277.01 L422.69,278.42 L423.19,279.84 L423.68,281.25 L424.18,282.65 L424.68,284.05 L425.18,285.43 L425.67,286.81 L426.17,288.28 L426.67,289.91 L427.17,291.66 L427.67,293.55 L428.16,295.54 L428.66,297.65 L429.16,299.84 L429.66,302.12 L430.15,304.46 L430.65,306.87 L431.15,309.34 L431.65,311.84 L432.15,314.37 L432.64,316.93 L433.14,319.49 L433.64,322.05 L434.14,324.60 L434.63,327.13 L435.13,329.62 L435.63,332.08 L436.13,334.48 L436.62,336.81 L437.12,339.07 L437.62,341.25 L438.12,343.33 L438.62,345.31 L439.11,347.17 L439.61,348.90 L440.11,350.50 L440.61,351.95 L441.10,353.24 L441.60,354.37 L442.10,355.31 L442.60,356.16 L443.10,357.00 L443.59,357.83 L444.09,358.66 L444.59,359.47 L445.09,360.27 L445.58,361.06 L446.08,361.84 L446.58,362.60 L447.08,363.34 L447.58,364.06 L448.07,364.77 L448.57,365.46 L449.07,366.12 L449.57,366.77 L450.06,367.38 L450.56,367.98 L451.06,368.55 L451.56,369.09 L452.05,369.60 L452.55,370.08 L453.05,370.53 L453.55,370.95 L454.05,371.34 L454.54,371.69 L455.04,372.01 L455.54,372.29 L456.04,372.53 L456.53,372.73 L457.03,372.90 L457.53,373.02 L458.03,373.09 L458.53,373.13 L459.02,373.12 L459.52,373.05 L460.02,372.94 L460.52,372.79 L461.01,372.58 L461.51,372.34 L462.01,372.05 L462.51,371.72 L463.01,371.35 L463.50,370.94 L464.00,370.49 L464.50,370.01 L465.00,369.50 L465.49,368.95 L465.99,368.37 L466.49,367.76 L466.99,367.12 L467.48,366.46 L467.98,365.76 L468.48,365.05 L468.98,364.31 L469.48,363.55 L469.97,362.77 L470.47,361.97 L470.97,361.15 L471.47,360.32 L471.96,359.47 L472.46,358.61 L472.96,357.73 L473.46,356.85 L473.96,355.95 L474.45,355.05 L474.95,354.15 L475.45,353.21 L475.95,352.12 L476.44,350.85 L476.94,349.43 L477.44,347.85 L477.94,346.14 L478.44,344.30 L478.93,342.34 L479.43,340.27 L479.93,338.11 L480.43,335.85 L480.92,333.53 L481.42,331.13 L481.92,328.68 L482.42,326.19 L482.92,323.66 L483.41,321.11 L483.91,318.54 L484.41,315.98 L484.91,313.41 L485.40,310.87 L485.90,308.36 L486.40,305.88 L486.90,303.46 L487.39,301.09 L487.89,298.80 L488.39,296.59 L488.89,294.47 L489.39,292.45 L489.88,290.54 L490.38,288.76 L490.88,287.10 L491.38,285.60 L491.87,284.24 L492.37,282.94 L492.87,281.64 L493.37,280.36 L493.87,279.09 L494.36,277.83 L494.86,276.59 L495.36,275.36 L495.86,274.15 L496.35,272.96 L496.85,271.79 L497.35,270.64 L497.85,269.51 L498.35,268.40 L498.84,267.32 L499.34,266.26 L499.84,265.22 L500.34,264.22 L500.83,263.24 L501.33,262.29 L501.83,261.37 L502.33,260.48 L502.82,259.63 L503.32,258.81 L503.82,258.02 L504.32,257.27 L504.82,256.56 L505.31,255.89 L505.81,255.25 L506.31,254.66 L506.81,254.11 L507.30,253.60 L507.80,253.13 L508.30,252.71" stroke="#343a7c" stroke-width="1.35" fill="none" stroke-linejoin="round"/>
<polygon points="307.12,252.71 310.99,250.47 310.99,254.95" fill="#343a7c"/>
<polygon points="323.67,286.46 327.54,284.22 327.54,288.70" fill="#343a7c"/>
<polygon points="340.22,355.31 344.09,353.07 344.09,357.55" fill="#343a7c"/>
<polygon points="356.77,373.13 360.64,370.89 360.64,375.37" fill="#343a7c"/>
<polygon points="373.31,353.69 377.19,351.45 377.19,355.93" fill="#343a7c"/>
<polygon points="389.87,284.57 393.74,282.33 393.74,286.81" fill="#343a7c"/>
<polygon points="406.42,252.71 410.29,250.47 410.29,254.95" fill="#343a7c"/>
<polygon points="422.97,286.46 426.84,284.22 426.84,288.70" fill="#343a7c"/>
<polygon points="439.52,355.31 443.39,353.07 443.39,357.55" fill="#343a7c"/>
<polygon points="456.06,373.13 459.94,370.89 459.94,375.37" fill="#343a7c"/>
<polygon points="472.62,353.69 476.49,351.45 476.49,355.93" fill="#343a7c"/>
<polygon points="489.17,284.57 493.04,282.33 493.04,286.81" fill="#343a7c"/>
<polygon points="505.72,252.71 509.59,250.47 509.59,254.95" fill="#343a7c"/>
<path d="M309.70,251.90 L310.20,252.42 L310.70,252.99 L311.19,253.59 L311.69,254.24 L312.19,254.92 L312.69,255.64 L313.18,256.39 L313.68,257.18 L314.18,258.01 L314.68,258.87 L315.18,259.76 L315.67,260.68 L316.17,261.63 L316.67,262.61 L317.17,263.62 L317.66,264.66 L318.16,265.72 L318.66,266.81 L319.16,267.92 L319.65,269.06 L320.15,270.22 L320.65,271.40 L321.15,272.61 L321.65,273.83 L322.14,275.07 L322.64,276.33 L323.14,277.61 L323.64,278.90 L324.13,280.21 L324.63,281.53 L325.13,282.87 L325.63,284.22 L326.13,285.58 L326.62,286.99 L327.12,288.54 L327.62,290.24 L328.12,292.06 L328.61,294.00 L329.11,296.04 L329.61,298.19 L330.11,300.42 L330.61,302.72 L331.10,305.09 L331.60,307.52 L332.10,310.00 L332.60,312.50 L333.09,315.04 L333.59,317.58 L334.09,320.13 L334.59,322.68 L335.08,325.20 L335.58,327.70 L336.08,330.17 L336.58,332.58 L337.08,334.94 L337.57,337.22 L338.07,339.43 L338.57,341.55 L339.07,343.57 L339.56,345.48 L340.06,347.27 L340.56,348.93 L341.06,350.45 L341.56,351.81 L342.05,353.02 L342.55,354.05 L343.05,354.92 L343.55,355.77 L344.04,356.61 L344.54,357.43 L345.04,358.25 L345.54,359.06 L346.04,359.86 L346.53,360.64 L347.03,361.41 L347.53,362.16 L348.03,362.89 L348.52,363.61 L349.02,364.30 L349.52,364.98 L350.02,365.63 L350.52,366.27 L351.01,366.87 L351.51,367.45 L352.01,368.01 L352.51,368.54 L353.00,369.03 L353.50,369.50 L354.00,369.94 L354.50,370.34 L354.99,370.71 L355.49,371.05 L355.99,371.34 L356.49,371.61 L356.99,371.83 L357.48,372.01 L357.98,372.15 L358.48,372.25 L358.98,372.31 L359.47,372.32 L359.97,372.28 L360.47,372.19 L360.97,372.06 L361.47,371.87 L361.96,371.64 L362.46,371.37 L362.96,371.06 L363.46,370.70 L363.95,370.30 L364.45,369.87 L364.95,369.40 L365.45,368.89 L365.95,368.35 L366.44,367.78 L366.94,367.17 L367.44,366.54 L367.94,365.88 L368.43,365.19 L368.93,364.47 L369.43,363.73 L369.93,362.97 L370.42,362.19 L370.92,361.39 L371.42,360.57 L371.92,359.73 L372.42,358.88 L372.91,358.01 L373.41,357.14 L373.91,356.25 L374.41,355.35 L374.90,354.44 L375.40,353.53 L375.90,352.61 L376.40,351.60 L376.90,350.42 L377.39,349.07 L377.89,347.58 L378.39,345.94 L378.89,344.17 L379.38,342.28 L379.88,340.29 L380.38,338.19 L380.88,336.00 L381.38,333.73 L381.87,331.39 L382.37,328.99 L382.87,326.54 L383.37,324.06 L383.86,321.54 L384.36,319.01 L384.86,316.47 L385.36,313.93 L385.85,311.41 L386.35,308.90 L386.85,306.43 L387.35,304.01 L387.85,301.63 L388.34,299.32 L388.84,297.09 L389.34,294.93 L389.84,292.88 L390.33,290.92 L390.83,289.09 L391.33,287.37 L391.83,285.80 L392.33,284.36 L392.82,283.04 L393.32,281.71 L393.82,280.36 L394.32,279.01 L394.81,277.66 L395.31,276.30 L395.81,274.95 L396.31,273.61 L396.81,272.27 L397.30,270.95 L397.80,269.65 L398.30,268.36 L398.80,267.10 L399.29,265.87 L399.79,264.66 L400.29,263.49 L400.79,262.36 L401.28,261.26 L401.78,260.21 L402.28,259.20 L402.78,258.25 L403.28,257.35 L403.77,256.50 L404.27,255.72 L404.77,255.00 L405.27,254.34 L405.76,253.76 L406.26,253.25 L406.76,252.81 L407.26,252.46 L407.76,252.19 L408.25,252.01 L408.75,251.91 L409.25,251.91 L409.75,252.01 L410.24,252.21 L410.74,252.50 L411.24,252.88 L411.74,253.35 L412.24,253.89 L412.73,254.52 L413.23,255.22 L413.73,255.99 L414.23,256.83 L414.72,257.73 L415.22,258.70 L415.72,259.72 L416.22,260.79 L416.72,261.91 L417.21,263.08 L417.71,264.28 L418.21,265.53 L418.71,266.81 L419.20,268.12 L419.70,269.46 L420.20,270.82 L420.70,272.20 L421.19,273.59 L421.69,275.00 L422.19,276.42 L422.69,277.84 L423.19,279.26 L423.68,280.68 L424.18,282.10 L424.68,283.50 L425.18,284.89 L425.67,286.27 L426.17,287.75 L426.67,289.37 L427.17,291.13 L427.67,293.01 L428.16,295.01 L428.66,297.10 L429.16,299.29 L429.66,301.56 L430.15,303.90 L430.65,306.30 L431.15,308.75 L431.65,311.25 L432.15,313.77 L432.64,316.31 L433.14,318.86 L433.64,321.41 L434.14,323.94 L434.63,326.46 L435.13,328.94 L435.63,331.38 L436.13,333.77 L436.62,336.09 L437.12,338.34 L437.62,340.50 L438.12,342.57 L438.62,344.54 L439.11,346.39 L439.61,348.12 L440.11,349.71 L440.61,351.15 L441.10,352.44 L441.60,353.56 L442.10,354.50 L442.60,355.35 L443.10,356.19 L443.59,357.02 L444.09,357.85 L444.59,358.66 L445.09,359.46 L445.58,360.25 L446.08,361.02 L446.58,361.78 L447.08,362.53 L447.58,363.25 L448.07,363.96 L448.57,364.64 L449.07,365.31 L449.57,365.95 L450.06,366.57 L450.56,367.17 L451.06,367.73 L451.56,368.28 L452.05,368.79 L452.55,369.27 L453.05,369.72 L453.55,370.14 L454.05,370.53 L454.54,370.88 L455.04,371.20 L455.54,371.48 L456.04,371.72 L456.53,371.92 L457.03,372.09 L457.53,372.21 L458.03,372.28 L458.53,372.32 L459.02,372.31 L459.52,372.24 L460.02,372.13 L460.52,371.97 L461.01,371.76 L461.51,371.51 L462.01,371.22 L462.51,370.88 L463.01,370.51 L463.50,370.09 L464.00,369.64 L464.50,369.15 L465.00,368.62 L465.49,368.07 L465.99,367.48 L466.49,366.86 L466.99,366.21 L467.48,365.53 L467.98,364.83 L468.48,364.11 L468.98,363.36 L469.48,362.58 L469.97,361.79 L470.47,360.98 L470.97,360.15 L471.47,359.31 L471.96,358.45 L472.46,357.58 L472.96,356.69 L473.46,355.80 L473.96,354.90 L474.45,353.99 L474.95,353.07 L475.45,352.13 L475.95,351.03 L476.44,349.76 L476.94,348.34 L477.44,346.78 L477.94,345.07 L478.44,343.24 L478.93,341.30 L479.43,339.25 L479.93,337.10 L480.43,334.87 L480.92,332.57 L481.42,330.20 L481.92,327.77 L482.42,325.31 L482.92,322.80 L483.41,320.28 L483.91,317.74 L484.41,315.20 L484.91,312.67 L485.40,310.15 L485.90,307.66 L486.40,305.21 L486.90,302.81 L487.39,300.47 L487.89,298.19 L488.39,296.00 L488.89,293.89 L489.39,291.89 L489.88,289.99 L490.38,288.21 L490.88,286.57 L491.38,285.06 L491.87,283.70 L492.37,282.39 L492.87,281.09 L493.37,279.81 L493.87,278.53 L494.36,277.27 L494.86,276.03 L495.36,274.80 L495.86,273.58 L496.35,272.39 L496.85,271.21 L497.35,270.06 L497.85,268.92 L498.35,267.81 L498.84,266.72 L499.34,265.66 L499.84,264.62 L500.34,263.60 L500.83,262.62 L501.33,261.66 L501.83,260.74 L502.33,259.84 L502.82,258.98 L503.32,258.15 L503.82,257.35 L504.32,256.59 L504.82,255.87 L505.31,255.18 L505.81,254.53 L506.31,253.92 L506.81,253.35 L507.30,252.82 L507.80,252.34 L508.30,251.90" stroke="#0f1a2a" stroke-width="1.8" fill="none" stroke-linejoin="round"/>
<polygon points="309.70,248.99 310.39,250.95 312.47,251.00 310.82,252.26 311.41,254.26 309.70,253.08 307.99,254.26 308.58,252.26 306.93,251.00 309.01,250.95" fill="#0f1a2a"/>
<polygon points="326.25,283.01 326.94,284.97 329.02,285.02 327.37,286.28 327.96,288.28 326.25,287.10 324.54,288.28 325.13,286.28 323.48,285.02 325.56,284.97" fill="#0f1a2a"/>
<polygon points="342.80,351.59 343.49,353.55 345.57,353.60 343.92,354.86 344.51,356.86 342.80,355.68 341.09,356.86 341.68,354.86 340.03,353.60 342.11,353.55" fill="#0f1a2a"/>
<polygon points="359.35,369.41 360.04,371.37 362.12,371.42 360.47,372.68 361.06,374.68 359.35,373.50 357.64,374.68 358.23,372.68 356.58,371.42 358.66,371.37" fill="#0f1a2a"/>
<polygon points="375.90,349.70 376.59,351.66 378.67,351.71 377.02,352.97 377.61,354.97 375.90,353.79 374.19,354.97 374.78,352.97 373.13,351.71 375.21,351.66" fill="#0f1a2a"/>
<polygon points="392.45,281.12 393.14,283.08 395.22,283.13 393.57,284.39 394.16,286.39 392.45,285.20 390.74,286.39 391.33,284.39 389.68,283.13 391.76,283.08" fill="#0f1a2a"/>
<polygon points="409.00,248.99 409.69,250.95 411.77,251.00 410.12,252.26 410.71,254.26 409.00,253.08 407.29,254.26 407.88,252.26 406.23,251.00 408.31,250.95" fill="#0f1a2a"/>
<polygon points="425.55,283.01 426.24,284.97 428.32,285.02 426.67,286.28 427.26,288.28 425.55,287.10 423.84,288.28 424.43,286.28 422.78,285.02 424.86,284.97" fill="#0f1a2a"/>
<polygon points="442.10,351.59 442.79,353.55 444.87,353.60 443.22,354.86 443.81,356.86 442.10,355.68 440.39,356.86 440.98,354.86 439.33,353.60 441.41,353.55" fill="#0f1a2a"/>
<polygon points="458.65,369.41 459.34,371.37 461.42,371.42 459.77,372.68 460.36,374.68 458.65,373.50 456.94,374.68 457.53,372.68 455.88,371.42 457.96,371.37" fill="#0f1a2a"/>
<polygon points="475.20,349.70 475.89,351.66 477.97,351.71 476.32,352.97 476.91,354.97 475.20,353.79 473.49,354.97 474.08,352.97 472.43,351.71 474.51,351.66" fill="#0f1a2a"/>
<polygon points="491.75,281.12 492.44,283.08 494.52,283.13 492.87,284.39 493.46,286.39 491.75,285.20 490.04,286.39 490.63,284.39 488.98,283.13 491.06,283.08" fill="#0f1a2a"/>
<polygon points="508.30,248.99 508.99,250.95 511.07,251.00 509.42,252.26 510.01,254.26 508.30,253.08 506.59,254.26 507.18,252.26 505.53,251.00 507.61,250.95" fill="#0f1a2a"/>
<rect x="300" y="243.8" width="217.00" height="178.50" fill="none" stroke="#999" stroke-width="1.1"/>
<line x1="297.4" y1="408.50" x2="300" y2="408.50" stroke="#666" stroke-width="0.8"/>
<text transform="translate(296.20,411.50) scale(0.93,1)" text-anchor="end" style="font-family:'Liberation Sans', sans-serif;font-size:8.8px;" fill="#111">300</text>
<line x1="297.4" y1="381.50" x2="300" y2="381.50" stroke="#666" stroke-width="0.8"/>
<text transform="translate(296.20,384.50) scale(0.93,1)" text-anchor="end" style="font-family:'Liberation Sans', sans-serif;font-size:8.8px;" fill="#111">400</text>
<line x1="297.4" y1="354.50" x2="300" y2="354.50" stroke="#666" stroke-width="0.8"/>
<text transform="translate(296.20,357.50) scale(0.93,1)" text-anchor="end" style="font-family:'Liberation Sans', sans-serif;font-size:8.8px;" fill="#111">500</text>
<line x1="297.4" y1="327.50" x2="300" y2="327.50" stroke="#666" stroke-width="0.8"/>
<text transform="translate(296.20,330.50) scale(0.93,1)" text-anchor="end" style="font-family:'Liberation Sans', sans-serif;font-size:8.8px;" fill="#111">600</text>
<line x1="297.4" y1="300.50" x2="300" y2="300.50" stroke="#666" stroke-width="0.8"/>
<text transform="translate(296.20,303.50) scale(0.93,1)" text-anchor="end" style="font-family:'Liberation Sans', sans-serif;font-size:8.8px;" fill="#111">700</text>
<line x1="297.4" y1="273.50" x2="300" y2="273.50" stroke="#666" stroke-width="0.8"/>
<text transform="translate(296.20,276.50) scale(0.93,1)" text-anchor="end" style="font-family:'Liberation Sans', sans-serif;font-size:8.8px;" fill="#111">800</text>
<line x1="297.4" y1="246.50" x2="300" y2="246.50" stroke="#666" stroke-width="0.8"/>
<text transform="translate(296.20,249.50) scale(0.93,1)" text-anchor="end" style="font-family:'Liberation Sans', sans-serif;font-size:8.8px;" fill="#111">900</text>
<line x1="309.70" y1="422.3" x2="309.70" y2="424.90000000000003" stroke="#666" stroke-width="0.8"/>
<text transform="translate(309.70,433.90) scale(0.93,1)" text-anchor="middle" style="font-family:'Liberation Sans', sans-serif;font-size:8.8px;" fill="#111">0</text>
<line x1="326.25" y1="422.3" x2="326.25" y2="424.90000000000003" stroke="#666" stroke-width="0.8"/>
<text transform="translate(326.25,433.90) scale(0.93,1)" text-anchor="middle" style="font-family:'Liberation Sans', sans-serif;font-size:8.8px;" fill="#111">1</text>
<line x1="342.80" y1="422.3" x2="342.80" y2="424.90000000000003" stroke="#666" stroke-width="0.8"/>
<text transform="translate(342.80,433.90) scale(0.93,1)" text-anchor="middle" style="font-family:'Liberation Sans', sans-serif;font-size:8.8px;" fill="#111">2</text>
<line x1="359.35" y1="422.3" x2="359.35" y2="424.90000000000003" stroke="#666" stroke-width="0.8"/>
<text transform="translate(359.35,433.90) scale(0.93,1)" text-anchor="middle" style="font-family:'Liberation Sans', sans-serif;font-size:8.8px;" fill="#111">3</text>
<line x1="375.90" y1="422.3" x2="375.90" y2="424.90000000000003" stroke="#666" stroke-width="0.8"/>
<text transform="translate(375.90,433.90) scale(0.93,1)" text-anchor="middle" style="font-family:'Liberation Sans', sans-serif;font-size:8.8px;" fill="#111">4</text>
<line x1="392.45" y1="422.3" x2="392.45" y2="424.90000000000003" stroke="#666" stroke-width="0.8"/>
<text transform="translate(392.45,433.90) scale(0.93,1)" text-anchor="middle" style="font-family:'Liberation Sans', sans-serif;font-size:8.8px;" fill="#111">5</text>
<line x1="409.00" y1="422.3" x2="409.00" y2="424.90000000000003" stroke="#666" stroke-width="0.8"/>
<text transform="translate(409.00,433.90) scale(0.93,1)" text-anchor="middle" style="font-family:'Liberation Sans', sans-serif;font-size:8.8px;" fill="#111">6</text>
<line x1="425.55" y1="422.3" x2="425.55" y2="424.90000000000003" stroke="#666" stroke-width="0.8"/>
<text transform="translate(425.55,433.90) scale(0.93,1)" text-anchor="middle" style="font-family:'Liberation Sans', sans-serif;font-size:8.8px;" fill="#111">7</text>
<line x1="442.10" y1="422.3" x2="442.10" y2="424.90000000000003" stroke="#666" stroke-width="0.8"/>
<text transform="translate(442.10,433.90) scale(0.93,1)" text-anchor="middle" style="font-family:'Liberation Sans', sans-serif;font-size:8.8px;" fill="#111">8</text>
<line x1="458.65" y1="422.3" x2="458.65" y2="424.90000000000003" stroke="#666" stroke-width="0.8"/>
<text transform="translate(458.65,433.90) scale(0.93,1)" text-anchor="middle" style="font-family:'Liberation Sans', sans-serif;font-size:8.8px;" fill="#111">9</text>
<line x1="475.20" y1="422.3" x2="475.20" y2="424.90000000000003" stroke="#666" stroke-width="0.8"/>
<text transform="translate(475.20,433.90) scale(0.93,1)" text-anchor="middle" style="font-family:'Liberation Sans', sans-serif;font-size:8.8px;" fill="#111">10</text>
<line x1="491.75" y1="422.3" x2="491.75" y2="424.90000000000003" stroke="#666" stroke-width="0.8"/>
<text transform="translate(491.75,433.90) scale(0.93,1)" text-anchor="middle" style="font-family:'Liberation Sans', sans-serif;font-size:8.8px;" fill="#111">11</text>
<line x1="508.30" y1="422.3" x2="508.30" y2="424.90000000000003" stroke="#666" stroke-width="0.8"/>
<text transform="translate(508.30,433.90) scale(0.93,1)" text-anchor="middle" style="font-family:'Liberation Sans', sans-serif;font-size:8.8px;" fill="#111">12</text>
<text transform="translate(408.50,444.50) scale(0.93,1)" text-anchor="middle" style="font-family:'Liberation Sans', sans-serif;font-size:9.6px;" fill="#111">Step</text>
<text transform="translate(273.80,333.00) rotate(-90) scale(0.93,1)" text-anchor="middle" style="font-family:'Liberation Sans', sans-serif;font-size:10.8px;" fill="#111"><tspan font-style="italic">E</tspan><tspan dy="2.2" font-size="7px">c</tspan><tspan dy="-2.2">(</tspan><tspan font-style="italic">mJ</tspan>/<tspan font-style="italic">m</tspan><tspan dy="-5.4" font-size="7.5px">2</tspan><tspan dy="5.4">)</tspan></text>
<rect x="388" y="350.8" width="43.2" height="66.8" rx="1.5" fill="#fff" fill-opacity="0.85" stroke="#e0e0e0" stroke-width="0.7"/>
<circle cx="396.70" cy="357.20" r="2.30" fill="#dce23a"/>
<text transform="translate(409.70,359.70) scale(0.93,1)" style="font-family:'Liberation Sans', sans-serif;font-size:7.2px;" fill="#111">1x1x1</text>
<polygon points="396.70,370.63 394.51,366.83 398.89,366.83" fill="#68b85a"/>
<text transform="translate(409.70,370.60) scale(0.93,1)" style="font-family:'Liberation Sans', sans-serif;font-size:7.2px;" fill="#111">1x1x2</text>
<polygon points="396.70,376.47 398.89,380.26 394.51,380.26" fill="#21967f"/>
<text transform="translate(409.70,381.50) scale(0.93,1)" style="font-family:'Liberation Sans', sans-serif;font-size:7.2px;" fill="#111">1x1x3</text>
<polygon points="399.23,389.90 395.44,392.09 395.44,387.71" fill="#236e7e"/>
<text transform="translate(409.70,392.40) scale(0.93,1)" style="font-family:'Liberation Sans', sans-serif;font-size:7.2px;" fill="#111">1x1x4</text>
<polygon points="394.17,400.80 397.96,398.61 397.96,402.99" fill="#343a7c"/>
<text transform="translate(409.70,403.30) scale(0.93,1)" style="font-family:'Liberation Sans', sans-serif;font-size:7.2px;" fill="#111">1x1x5</text>
<polygon points="396.70,408.85 397.38,410.77 399.41,410.82 397.79,412.06 398.38,414.01 396.70,412.85 395.02,414.01 395.61,412.06 393.99,410.82 396.02,410.77" fill="#0f1a2a"/>
<text transform="translate(409.70,414.20) scale(0.93,1)" style="font-family:'Liberation Sans', sans-serif;font-size:7.2px;" fill="#111">1x1x6</text>
</svg>
</body></html>
